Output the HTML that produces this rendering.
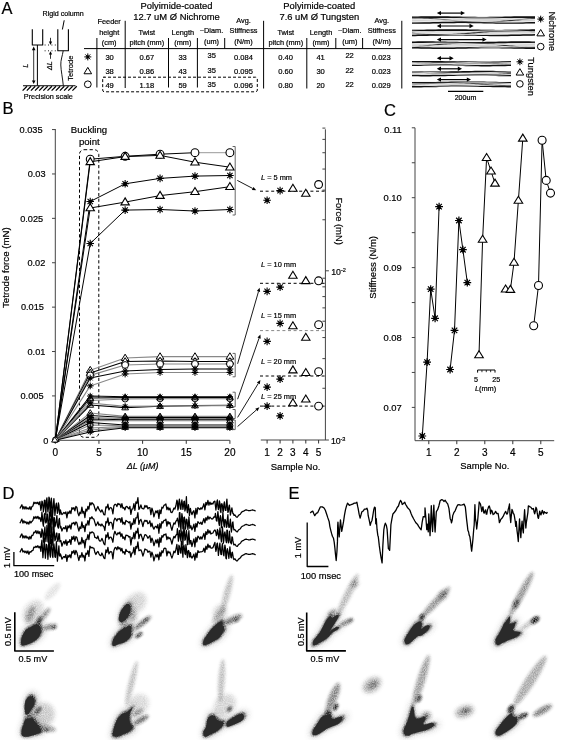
<!DOCTYPE html>
<html><head><meta charset="utf-8"><style>
html,body{margin:0;padding:0;background:#fff;width:575px;height:740px;overflow:hidden}
svg{display:block;will-change:transform}
text{font-family:"Liberation Sans", sans-serif;fill:#000;stroke:#000;stroke-width:0.2px}
</style></head><body>
<svg width="575" height="740" viewBox="0 0 575 740">
<rect width="575" height="740" fill="#fff"/>
<text x="2.4" y="498.6" font-size="16.6" text-anchor="start">D</text>
<text x="288.4" y="498.6" font-size="16.6" text-anchor="start">E</text>
<polyline points="19.90,508.56 20.90,506.55 21.90,504.76 22.90,508.99 23.90,506.46 24.90,509.11 25.90,506.68 26.90,508.98 27.90,507.80 28.90,509.26 29.90,506.61 30.90,509.72 31.90,506.66 32.90,506.08 33.90,502.11 34.90,503.69 35.90,502.35 36.90,503.67 37.90,502.15 38.90,504.65 39.90,501.65 40.90,510.41 41.40,507.46 41.90,501.19 42.40,501.86 42.90,505.93 43.40,511.79 43.90,507.45 44.40,500.29 44.90,500.12 45.40,508.31 45.90,514.39 46.40,500.67 46.90,497.84 47.40,505.35 47.90,511.97 48.40,508.02 48.90,497.04 49.40,498.14 49.90,509.66 50.40,516.14 50.90,501.30 51.40,498.20 51.90,506.23 52.40,517.90 52.90,512.77 53.40,503.68 53.90,498.51 54.40,506.28 54.90,515.53 55.40,510.49 55.90,505.07 56.40,503.19 56.90,508.28 57.40,513.37 57.90,510.41 58.40,502.89 58.90,505.40 59.40,512.39 59.90,514.53 60.40,509.86 60.90,511.68 61.90,514.63 62.90,513.73 63.90,512.41 64.90,513.51 65.90,511.92 66.90,517.80 67.90,511.90 68.90,513.55 69.90,510.81 70.90,513.55 71.90,507.66 72.90,509.16 73.90,507.60 74.90,510.91 75.90,506.41 76.90,507.45 77.90,513.12 78.90,515.76 79.90,512.18 80.90,513.72 81.90,507.16 82.90,513.21 83.90,511.40 84.90,517.68 85.90,509.12 86.90,511.00 87.90,506.35 88.90,509.27 89.90,502.61 90.90,504.92 91.90,502.66 92.90,503.74 93.90,504.99 94.90,508.59 95.90,511.02 96.90,508.48 97.90,506.47 98.90,509.19 99.90,510.71 100.90,512.02 101.90,509.86 102.90,512.09 103.90,514.66 104.90,514.88 105.90,506.81 106.90,507.80 107.90,504.04 108.90,509.92 109.90,507.97 110.90,507.48 111.90,508.93 112.90,513.83 113.90,505.88 114.90,504.28 115.90,504.40 116.90,506.56 117.90,503.43 118.90,504.51 119.90,504.01 120.90,507.70 121.90,503.56 122.90,508.17 123.90,507.59 124.90,509.92 125.90,506.78 126.90,506.36 127.90,507.81 128.90,508.75 129.90,506.40 130.90,514.37 131.90,509.16 132.90,508.88 133.90,503.51 134.90,510.33 135.90,501.97 136.90,503.34 137.90,497.52 138.90,509.42 139.90,507.80 140.90,504.94 141.90,508.20 142.90,508.83 143.90,508.78 144.90,505.32 145.90,507.22 146.90,505.70 147.90,508.81 148.90,507.65 149.90,507.52 150.90,514.69 151.90,508.04 152.90,511.19 153.90,516.94 154.90,513.41 155.90,510.81 156.90,512.83 157.90,510.44 158.90,518.48 159.90,509.82 160.90,513.73 161.90,507.09 162.90,508.11 163.90,505.37 164.90,504.94 165.90,504.01 166.90,509.73 167.90,507.19 168.90,509.94 169.90,508.07 170.90,512.23 171.90,512.64 172.90,510.72 173.90,508.04 174.90,508.99 175.90,505.79 176.90,500.06 177.40,501.67 177.90,510.05 178.40,508.17 178.90,501.92 179.40,499.04 179.90,503.64 180.40,508.73 180.90,509.35 181.40,502.77 181.90,499.99 182.40,503.96 182.90,509.48 183.40,506.27 183.90,501.50 184.40,501.17 184.90,511.00 185.40,508.95 185.90,505.25 186.40,496.66 186.90,509.06 187.40,512.71 187.90,507.99 188.40,504.67 188.90,508.28 189.40,515.57 189.90,512.14 190.40,508.35 190.90,511.17 191.90,514.69 192.90,511.99 193.90,510.74 194.90,517.87 195.90,508.34 196.90,514.22 197.90,507.60 198.90,508.49 199.90,509.65 200.90,507.76 201.90,509.02 202.90,506.86 203.90,503.73 204.90,509.87 205.90,502.29 206.90,505.03 207.90,500.41 208.90,505.20 209.90,502.09 210.90,504.52 211.90,503.10 212.90,503.99 213.90,501.57 214.90,501.17 215.40,505.70 215.90,510.04 216.40,506.22 216.90,501.45 217.40,499.95 217.90,506.54 218.40,509.56 218.90,507.26 219.40,500.99 219.90,503.40 220.40,510.91 220.90,512.62 221.40,504.15 221.90,503.60 222.40,505.51 222.90,511.13 223.40,511.36 223.90,504.10 224.40,501.88 224.90,507.22 225.40,510.38 225.90,510.42 226.40,503.50 226.90,499.15 227.40,506.88 227.90,512.47 228.40,511.23 228.90,506.71 229.40,505.04 229.90,509.54 230.40,515.12 230.90,512.42 231.40,510.09 231.90,507.86 232.40,510.92 232.90,513.57 233.40,513.52 233.90,515.46 234.90,514.92 235.70,516.22 236.50,517.09 237.30,517.25 238.10,515.99 238.90,515.02 239.70,514.62 240.50,513.95 241.30,512.55 242.10,511.74 242.90,511.39 243.70,511.21 244.50,510.46 245.30,510.15 246.10,509.81 246.90,510.10 247.70,510.25 248.50,510.71 249.30,510.63 250.10,510.69 250.90,510.26 251.70,510.06 252.50,509.84 253.30,510.09 254.10,510.29 254.90,510.78 255.70,510.94" stroke="#000" stroke-width="1.25" fill="none" stroke-linejoin="round"/>
<polyline points="19.90,523.29 20.90,521.24 21.90,519.03 22.90,523.19 23.90,520.71 24.90,522.82 25.90,521.75 26.90,523.89 27.90,522.04 28.90,524.11 29.90,521.15 30.90,522.98 31.90,521.47 32.90,520.34 33.90,516.71 34.90,518.54 35.90,516.50 36.90,518.48 37.90,516.31 38.90,518.92 39.90,517.40 40.90,521.56 41.40,519.68 41.90,512.19 42.40,516.68 42.90,523.34 43.40,526.23 43.90,519.41 44.40,513.88 44.90,513.33 45.40,522.00 45.90,523.03 46.40,521.81 46.90,514.84 47.40,513.93 47.90,522.00 48.40,532.19 48.90,525.04 49.40,512.04 49.90,516.96 50.40,520.53 50.90,532.62 51.40,521.34 51.90,510.48 52.40,517.00 52.90,524.56 53.40,529.62 53.90,517.49 54.40,517.76 54.90,526.87 55.40,525.17 55.90,522.56 56.40,519.02 56.90,515.51 57.40,525.48 57.90,526.95 58.40,528.19 58.90,519.98 59.40,518.42 59.90,524.42 60.40,527.87 60.90,526.68 61.90,531.07 62.90,528.48 63.90,527.57 64.90,528.93 65.90,525.78 66.90,531.62 67.90,525.90 68.90,527.87 69.90,524.90 70.90,529.16 71.90,523.05 72.90,523.71 73.90,522.32 74.90,525.00 75.90,521.90 76.90,523.03 77.90,527.32 78.90,531.00 79.90,526.81 80.90,528.58 81.90,521.85 82.90,527.59 83.90,525.59 84.90,531.57 85.90,524.11 86.90,525.12 87.90,520.65 88.90,525.13 89.90,517.60 90.90,518.62 91.90,516.71 92.90,518.69 93.90,519.11 94.90,522.57 95.90,525.81 96.90,523.97 97.90,521.85 98.90,525.25 99.90,524.19 100.90,526.03 101.90,524.00 102.90,525.75 103.90,526.71 104.90,530.51 105.90,521.59 106.90,522.87 107.90,517.94 108.90,525.33 109.90,522.37 110.90,522.26 111.90,523.38 112.90,529.10 113.90,520.73 114.90,518.12 115.90,519.13 116.90,521.05 117.90,518.76 118.90,519.12 119.90,518.50 120.90,522.34 121.90,517.59 122.90,524.07 123.90,522.18 124.90,524.55 125.90,520.37 126.90,521.23 127.90,521.78 128.90,522.83 129.90,521.57 130.90,529.24 131.90,523.23 132.90,524.60 133.90,518.68 134.90,523.78 135.90,517.75 136.90,517.84 137.90,512.71 138.90,524.40 139.90,520.53 140.90,519.32 141.90,522.41 142.90,526.67 143.90,522.10 144.90,520.19 145.90,521.25 146.90,520.45 147.90,523.74 148.90,523.09 149.90,520.77 150.90,526.61 151.90,523.07 152.90,527.11 153.90,529.13 154.90,527.07 155.90,526.21 156.90,528.04 157.90,524.51 158.90,533.25 159.90,523.29 160.90,528.07 161.90,521.53 162.90,523.05 163.90,520.39 164.90,520.29 165.90,519.13 166.90,526.05 167.90,521.28 168.90,523.94 169.90,522.41 170.90,526.84 171.90,530.25 172.90,526.13 173.90,522.86 174.90,524.20 175.90,521.26 176.90,520.19 177.40,518.23 177.90,520.90 178.40,522.81 178.90,527.05 179.40,512.89 179.90,512.55 180.40,523.57 180.90,531.11 181.40,519.78 181.90,513.53 182.40,516.75 182.90,528.90 183.40,527.68 183.90,517.72 184.40,517.04 184.90,520.87 185.40,529.16 185.90,526.13 186.40,519.12 186.90,519.60 187.40,523.80 187.90,529.49 188.40,525.32 188.90,516.77 189.40,522.47 189.90,528.27 190.40,526.39 190.90,525.78 191.90,529.83 192.90,527.63 193.90,524.07 194.90,531.33 195.90,523.32 196.90,527.16 197.90,521.62 198.90,522.84 199.90,523.74 200.90,522.18 201.90,524.45 202.90,521.52 203.90,518.53 204.90,522.84 205.90,517.53 206.90,520.27 207.90,516.08 208.90,519.13 209.90,517.04 210.90,518.19 211.90,519.09 212.90,518.58 213.90,516.87 214.90,517.08 215.40,513.32 215.90,516.95 216.40,520.54 216.90,521.21 217.40,516.15 217.90,511.56 218.40,516.28 218.90,523.35 219.40,525.54 219.90,518.15 220.40,515.63 220.90,518.24 221.40,527.61 221.90,522.71 222.40,520.04 222.90,512.09 223.40,519.29 223.90,525.56 224.40,527.03 224.90,519.38 225.40,519.99 225.90,521.68 226.40,527.36 226.90,526.89 227.40,518.32 227.90,514.72 228.40,524.27 228.90,527.41 229.40,527.10 229.90,522.50 230.40,519.19 230.90,527.35 231.40,532.04 231.90,528.26 232.40,522.88 232.90,521.92 233.40,527.23 233.90,529.79 234.90,529.55 235.70,530.76 236.50,531.66 237.30,531.80 238.10,530.55 238.90,529.63 239.70,529.20 240.50,528.55 241.30,527.18 242.10,526.38 242.90,526.00 243.70,525.77 244.50,525.10 245.30,524.71 246.10,524.40 246.90,524.68 247.70,524.80 248.50,525.26 249.30,525.25 250.10,525.29 250.90,524.84 251.70,524.75 252.50,524.46 253.30,524.70 254.10,524.92 254.90,525.38 255.70,525.52" stroke="#000" stroke-width="1.25" fill="none" stroke-linejoin="round"/>
<polyline points="19.90,537.68 20.90,535.46 21.90,533.95 22.90,538.00 23.90,535.74 24.90,538.03 25.90,535.83 26.90,538.12 27.90,536.89 28.90,539.33 29.90,536.44 30.90,538.81 31.90,535.25 32.90,535.38 33.90,532.14 34.90,532.77 35.90,530.59 36.90,533.63 37.90,530.95 38.90,533.57 39.90,531.56 40.90,537.37 41.40,536.83 41.90,528.93 42.40,530.42 42.90,533.06 43.40,542.06 43.90,537.61 44.40,530.79 44.90,526.98 45.40,536.17 45.90,541.39 46.40,535.73 46.90,525.48 47.40,528.90 47.90,541.46 48.40,542.41 48.90,530.90 49.40,523.08 49.90,535.19 50.40,543.74 50.90,539.34 51.40,530.72 51.90,526.79 52.40,539.98 52.90,545.28 53.40,534.71 53.90,526.71 54.40,533.13 54.90,540.79 55.40,539.80 55.90,536.61 56.40,533.07 56.90,533.03 57.40,540.59 57.90,541.37 58.40,539.01 58.90,533.68 59.40,533.88 59.90,541.62 60.40,540.63 60.90,540.72 61.90,546.23 62.90,543.31 63.90,541.32 64.90,543.99 65.90,539.83 66.90,545.37 67.90,541.50 68.90,542.37 69.90,539.54 70.90,544.32 71.90,536.67 72.90,539.44 73.90,536.05 74.90,541.12 75.90,536.60 76.90,537.56 77.90,541.61 78.90,544.66 79.90,542.17 80.90,544.07 81.90,537.50 82.90,542.91 83.90,540.28 84.90,547.80 85.90,539.31 86.90,539.56 87.90,534.52 88.90,539.60 89.90,532.05 90.90,533.16 91.90,531.93 92.90,532.43 93.90,533.32 94.90,537.50 95.90,537.70 96.90,538.55 97.90,536.01 98.90,539.81 99.90,541.15 100.90,540.85 101.90,538.37 102.90,540.65 103.90,543.91 104.90,544.88 105.90,534.82 106.90,537.26 107.90,532.70 108.90,539.03 109.90,537.31 110.90,537.02 111.90,538.85 112.90,542.27 113.90,534.48 114.90,531.27 115.90,533.85 116.90,534.96 117.90,532.79 118.90,533.91 119.90,532.04 120.90,536.56 121.90,533.72 122.90,538.35 123.90,536.95 124.90,539.83 125.90,535.20 126.90,535.37 127.90,535.65 128.90,537.12 129.90,536.38 130.90,545.03 131.90,537.74 132.90,538.63 133.90,532.68 134.90,538.78 135.90,531.23 136.90,532.97 137.90,528.09 138.90,538.71 139.90,534.65 140.90,534.20 141.90,537.20 142.90,540.75 143.90,537.66 144.90,534.65 145.90,534.93 146.90,536.13 147.90,538.27 148.90,536.94 149.90,535.67 150.90,542.50 151.90,538.09 152.90,540.61 153.90,545.68 154.90,542.69 155.90,539.81 156.90,543.02 157.90,539.03 158.90,546.84 159.90,537.63 160.90,542.33 161.90,535.58 162.90,537.11 163.90,534.43 164.90,534.93 165.90,533.81 166.90,539.65 167.90,536.82 168.90,538.77 169.90,537.70 170.90,540.16 171.90,544.22 172.90,539.56 173.90,536.35 174.90,537.91 175.90,535.29 176.90,534.24 177.40,528.57 177.90,534.43 178.40,541.12 178.90,537.50 179.40,530.43 179.90,531.42 180.40,537.86 180.90,541.01 181.40,533.43 181.90,530.98 182.40,533.29 182.90,544.70 183.40,535.45 183.90,526.57 184.40,531.15 184.90,540.30 185.40,539.38 185.90,534.36 186.40,530.46 186.90,534.46 187.40,544.74 187.90,544.39 188.40,536.05 188.90,530.67 189.40,539.19 189.90,544.19 190.40,540.69 190.90,540.46 191.90,546.50 192.90,542.44 193.90,538.92 194.90,546.80 195.90,537.36 196.90,542.01 197.90,536.15 198.90,537.27 199.90,539.31 200.90,536.71 201.90,539.09 202.90,536.20 203.90,533.36 204.90,539.39 205.90,531.62 206.90,534.52 207.90,529.63 208.90,533.22 209.90,530.73 210.90,533.99 211.90,533.24 212.90,533.05 213.90,531.03 214.90,529.93 215.40,530.53 215.90,532.55 216.40,535.55 216.90,534.58 217.40,529.44 217.90,530.52 218.40,535.41 218.90,538.98 219.40,534.71 219.90,527.96 220.40,531.47 220.90,538.00 221.40,541.94 221.90,535.09 222.40,526.85 222.90,532.33 223.40,543.17 223.90,540.07 224.40,533.40 224.90,531.89 225.40,534.82 225.90,540.25 226.40,542.63 226.90,530.06 227.40,530.33 227.90,540.69 228.40,542.94 228.90,540.24 229.40,531.23 229.90,536.36 230.40,542.71 230.90,542.77 231.40,543.89 231.90,536.96 232.40,537.02 232.90,540.66 233.40,543.48 233.90,544.96 234.90,544.13 235.70,545.36 236.50,546.26 237.30,546.44 238.10,545.17 238.90,544.27 239.70,543.83 240.50,543.11 241.30,541.78 242.10,540.98 242.90,540.59 243.70,540.36 244.50,539.64 245.30,539.31 246.10,539.07 246.90,539.33 247.70,539.49 248.50,539.88 249.30,539.86 250.10,539.82 250.90,539.42 251.70,539.32 252.50,539.01 253.30,539.30 254.10,539.46 254.90,539.98 255.70,540.11" stroke="#000" stroke-width="1.25" fill="none" stroke-linejoin="round"/>
<polyline points="19.90,552.36 20.90,550.32 21.90,548.52 22.90,552.01 23.90,550.80 24.90,552.61 25.90,551.10 26.90,553.24 27.90,550.94 28.90,554.31 29.90,551.65 30.90,552.20 31.90,550.63 32.90,550.67 33.90,547.04 34.90,547.52 35.90,546.26 36.90,547.37 37.90,545.68 38.90,547.78 39.90,546.30 40.90,551.27 41.40,544.03 41.90,540.25 42.40,547.57 42.90,557.62 43.40,551.58 43.90,545.43 44.40,537.80 44.90,551.00 45.40,558.22 45.90,551.87 46.40,544.36 46.90,545.21 47.40,550.41 47.90,559.28 48.40,551.89 48.90,537.27 49.40,544.29 49.90,554.62 50.40,557.11 50.90,546.08 51.40,539.32 51.90,546.86 52.40,555.89 52.90,557.58 53.40,547.57 53.90,543.92 54.40,548.18 54.90,556.83 55.40,557.34 55.90,548.55 56.40,541.61 56.90,551.84 57.40,561.12 57.90,555.75 58.40,550.75 58.90,545.82 59.40,555.43 59.90,556.13 60.40,553.85 60.90,555.22 61.90,559.22 62.90,557.56 63.90,556.54 64.90,557.56 65.90,554.50 66.90,561.33 67.90,555.39 68.90,557.12 69.90,554.74 70.90,557.79 71.90,551.43 72.90,553.08 73.90,550.41 74.90,554.64 75.90,550.44 76.90,552.45 77.90,556.70 78.90,560.49 79.90,555.64 80.90,557.24 81.90,552.71 82.90,557.11 83.90,555.25 84.90,561.00 85.90,553.12 86.90,554.35 87.90,550.49 88.90,556.46 89.90,546.02 90.90,547.91 91.90,547.34 92.90,548.06 93.90,548.02 94.90,552.55 95.90,554.56 96.90,552.38 97.90,551.38 98.90,553.61 99.90,555.28 100.90,555.75 101.90,553.00 102.90,555.26 103.90,557.99 104.90,558.63 105.90,549.77 106.90,552.50 107.90,547.33 108.90,553.91 109.90,552.12 110.90,551.45 111.90,552.27 112.90,558.90 113.90,550.49 114.90,547.81 115.90,547.45 116.90,549.84 117.90,546.66 118.90,548.89 119.90,547.77 120.90,551.00 121.90,548.33 122.90,552.89 123.90,551.59 124.90,554.38 125.90,549.35 126.90,551.40 127.90,551.26 128.90,552.70 129.90,551.52 130.90,557.13 131.90,552.83 132.90,552.88 133.90,547.29 134.90,554.61 135.90,546.32 136.90,548.23 137.90,541.92 138.90,550.75 139.90,550.13 140.90,549.80 141.90,552.28 142.90,556.12 143.90,552.94 144.90,548.94 145.90,549.62 146.90,549.81 147.90,552.30 148.90,551.21 149.90,551.35 150.90,557.13 151.90,552.18 152.90,554.97 153.90,560.86 154.90,557.15 155.90,554.41 156.90,556.98 157.90,554.10 158.90,559.77 159.90,552.18 160.90,556.26 161.90,550.74 162.90,552.77 163.90,548.59 164.90,548.10 165.90,548.53 166.90,555.88 167.90,551.06 168.90,552.94 169.90,551.99 170.90,555.29 171.90,558.14 172.90,555.17 173.90,551.23 174.90,552.78 175.90,549.47 176.90,544.47 177.40,549.49 177.90,554.44 178.40,554.36 178.90,545.23 179.40,546.52 179.90,548.57 180.40,552.76 180.90,553.14 181.40,541.26 181.90,542.45 182.40,550.61 182.90,557.23 183.40,546.90 183.90,545.13 184.40,548.49 184.90,553.53 185.40,554.57 185.90,544.55 186.40,548.37 186.90,553.70 187.40,557.62 187.90,551.54 188.40,550.49 188.90,551.16 189.40,556.83 189.90,557.12 190.40,552.63 190.90,555.71 191.90,558.08 192.90,556.44 193.90,554.10 194.90,560.25 195.90,552.83 196.90,557.55 197.90,550.64 198.90,552.37 199.90,551.97 200.90,551.83 201.90,551.63 202.90,551.27 203.90,548.08 204.90,552.37 205.90,546.06 206.90,549.44 207.90,544.02 208.90,547.62 209.90,545.64 210.90,548.14 211.90,548.07 212.90,547.69 213.90,545.05 214.90,542.37 215.40,547.77 215.90,551.37 216.40,549.18 216.90,543.84 217.40,543.13 217.90,548.26 218.40,555.44 218.90,550.91 219.40,546.64 219.90,543.15 220.40,549.65 220.90,554.43 221.40,554.59 221.90,547.20 222.40,543.62 222.90,548.62 223.40,554.54 223.90,555.89 224.40,550.05 224.90,545.18 225.40,547.96 225.90,558.13 226.40,558.75 226.90,550.70 227.40,548.59 227.90,551.37 228.40,554.99 228.90,558.31 229.40,552.63 229.90,546.90 230.40,553.14 230.90,557.30 231.40,557.73 231.90,552.74 232.40,552.28 232.90,555.47 233.40,558.42 233.90,559.63 234.90,558.77 235.70,559.96 236.50,560.85 237.30,560.98 238.10,559.77 238.90,558.88 239.70,558.39 240.50,557.67 241.30,556.31 242.10,555.60 242.90,555.20 243.70,554.97 244.50,554.28 245.30,553.94 246.10,553.67 246.90,553.94 247.70,554.03 248.50,554.45 249.30,554.40 250.10,554.43 250.90,554.01 251.70,553.94 252.50,553.63 253.30,553.85 254.10,554.08 254.90,554.57 255.70,554.70" stroke="#000" stroke-width="1.25" fill="none" stroke-linejoin="round"/>
<polyline points="13.90,551.90 13.90,565.70 54.20,565.70" stroke="#000" stroke-width="1.3" fill="none" stroke-linejoin="round"/>
<text x="6.8" y="557.5" font-size="9.1" text-anchor="middle" transform="rotate(-90 6.8 557.5)" dy="3.2">1 mV</text>
<text x="33.7" y="577.2" font-size="9.1" text-anchor="middle">100 msec</text>
<polyline points="310.21,512.96 311.48,511.86 312.74,511.08 313.74,513.46 314.75,515.69 316.27,513.29 317.78,512.58 320.30,506.92 322.32,506.87 324.08,508.04 325.34,510.27 326.60,513.99 327.86,517.89 329.13,521.46 329.88,526.54 330.89,530.78 331.65,533.69 332.40,536.24 333.41,537.98 334.17,541.87 334.92,548.36 335.43,553.73 336.19,560.49 336.94,551.50 337.45,541.63 337.70,525.53 337.95,522.08 338.45,529.43 339.21,536.84 339.72,529.16 340.47,519.78 340.98,524.64 341.73,531.46 342.49,527.30 343.50,521.88 344.51,514.84 345.51,509.59 346.52,505.88 347.53,503.17 349.30,505.28 351.06,504.71 352.57,504.18 354.34,503.14 355.60,503.19 356.86,502.23 357.62,506.18 358.12,508.38 359.13,514.19 360.14,518.10 361.15,514.39 361.90,511.79 363.16,511.04 364.43,509.11 365.69,509.17 366.95,508.22 367.70,510.72 368.21,515.70 369.22,520.23 370.22,525.32 370.98,522.50 371.99,520.44 372.75,516.04 373.75,509.76 374.51,507.12 375.27,507.69 375.77,523.81 376.28,518.55 377.03,529.42 377.79,535.18 378.29,536.73 379.30,545.67 380.31,552.97 381.07,557.68 382.08,562.96 382.83,546.08 383.84,529.55 384.60,525.37 385.35,523.16 386.36,525.43 387.12,529.36 387.87,540.78 388.38,548.68 389.14,549.24 389.64,550.40 390.40,535.49 390.90,524.76 391.91,518.80 392.92,513.98 394.43,512.23 395.94,510.27 397.20,507.47 398.46,506.00 399.47,502.74 400.48,500.41 401.49,501.87 402.25,504.50 403.51,503.51 404.77,502.14 405.52,504.27 406.53,505.89 407.54,507.69 408.55,508.60 409.81,510.09 411.07,513.58 412.33,516.41 413.59,518.78 414.85,520.99 416.11,523.09 417.38,524.15 418.64,526.30 419.90,528.23 421.16,529.74 422.17,522.16 423.17,516.76 423.93,516.72 424.94,516.78 425.00,507.93 426.01,519.56 426.77,529.62 427.52,524.03 428.28,531.84 428.78,513.89 429.54,526.09 430.04,535.66 430.80,519.11 431.30,505.68 432.06,524.10 432.56,531.57 433.32,515.07 433.83,505.04 434.58,523.68 435.09,532.01 435.84,519.15 436.35,511.53 437.61,509.73 438.87,505.97 440.13,500.73 441.39,499.67 442.65,499.82 443.91,501.45 445.17,500.29 446.43,502.39 447.69,503.91 448.95,508.40 450.21,518.69 450.97,520.35 451.48,522.84 452.23,520.02 452.74,515.61 454.00,512.33 455.26,510.55 456.52,507.30 457.78,504.80 459.04,504.70 460.30,505.08 462.32,504.94 464.08,504.13 465.34,506.96 466.60,519.38 467.36,525.61 467.86,530.21 468.62,531.99 469.13,534.99 469.88,536.85 470.39,540.41 471.14,547.18 471.65,551.17 472.40,544.32 472.91,539.42 473.66,530.01 474.17,525.02 474.67,512.14 474.92,504.71 475.43,518.69 476.19,522.85 476.69,529.04 477.45,522.56 477.95,517.25 478.71,508.32 479.21,501.98 480.47,504.02 481.23,508.11 481.73,511.50 482.49,507.84 482.99,506.74 483.75,512.74 484.25,513.16 485.01,510.94 485.51,509.82 486.27,514.09 486.78,514.11 487.53,509.57 488.04,508.50 488.79,506.26 489.30,505.97 490.05,508.70 490.56,513.76 491.31,510.17 491.82,510.58 492.57,512.47 493.08,514.52 494.34,513.77 495.60,511.34 496.86,513.59 498.12,513.48 498.88,518.42 499.38,522.66 500.14,521.18 500.64,519.65 501.90,518.26 503.16,516.47 504.43,513.56 505.69,511.37 506.44,513.27 506.95,514.26 507.70,512.97 508.21,509.37 508.96,507.00 509.47,504.00 509.97,514.43 510.73,522.56 511.23,516.50 511.99,509.41 512.75,511.32 513.25,513.45 514.01,514.25 514.51,516.87 515.27,521.66 515.77,526.44 516.28,521.43 517.03,530.61 517.54,534.41 518.29,541.49 518.80,531.71 519.55,518.86 520.06,527.99 520.81,537.69 521.32,529.39 522.08,521.10 522.58,527.93 523.34,532.93 523.84,521.62 524.60,509.76 525.10,517.93 525.86,528.02 526.36,522.30 527.12,517.71 527.87,512.60 528.38,505.79 529.64,506.59 530.90,507.23 532.16,509.17 533.42,508.48 534.18,512.37 534.68,513.89 535.44,510.73 535.94,507.27 536.70,508.96 537.20,512.65 537.96,517.40 538.46,518.42 539.22,514.30 539.73,511.22 540.48,513.91 540.99,514.91 541.74,512.29 542.25,510.30 543.00,512.30 543.51,514.16 544.26,511.70 544.77,512.36 545.52,512.66 546.03,513.09 546.79,513.38 547.29,511.83" stroke="#000" stroke-width="1.3" fill="none" stroke-linejoin="round"/>
<polyline points="307.20,522.40 307.20,566.50 328.40,566.50" stroke="#000" stroke-width="1.3" fill="none" stroke-linejoin="round"/>
<text x="297.6" y="547.5" font-size="9.1" text-anchor="middle" transform="rotate(-90 297.6 547.5)" dy="3.2">1 mV</text>
<text x="320.8" y="578.5" font-size="9.3" text-anchor="middle">100 msec</text>
<polyline points="14.80,612.20 14.80,651.00 53.90,651.00" stroke="#000" stroke-width="1.6" fill="none" stroke-linejoin="round"/>
<text x="7.8" y="631.7" font-size="9.1" text-anchor="middle" transform="rotate(-90 7.8 631.7)" dy="3.2">0.5 mV</text>
<text x="32.8" y="662.4" font-size="9.1" text-anchor="middle">0.5 mV</text>
<polyline points="306.70,612.60 306.70,650.90 345.90,650.90" stroke="#000" stroke-width="1.6" fill="none" stroke-linejoin="round"/>
<text x="300.7" y="631.7" font-size="9.1" text-anchor="middle" transform="rotate(-90 300.7 631.7)" dy="3.2">0.5 mV</text>
<text x="324.8" y="662.4" font-size="9.1" text-anchor="middle">0.5 mV</text>
<defs><filter id="bl2" x="-50%" y="-50%" width="200%" height="200%"><feGaussianBlur stdDeviation="2.2"/></filter><filter id="bl1" x="-50%" y="-50%" width="200%" height="200%"><feGaussianBlur stdDeviation="1.0"/></filter><filter id="bl3" x="-50%" y="-50%" width="200%" height="200%"><feGaussianBlur stdDeviation="3.0"/></filter><filter id="bl15" x="-50%" y="-50%" width="200%" height="200%"><feGaussianBlur stdDeviation="1.4"/></filter><filter id="bl05" x="-50%" y="-50%" width="200%" height="200%"><feGaussianBlur stdDeviation="0.5"/></filter><filter id="speck" x="0" y="0" width="100%" height="100%" filterUnits="userSpaceOnUse"><feTurbulence type="fractalNoise" baseFrequency="0.9" numOctaves="1" seed="5" result="n"/><feColorMatrix in="n" type="matrix" values="0 0 0 0 0  0 0 0 0 0  0 0 0 0 0  0 0 0 1.1 0.2" result="na"/><feComposite in="SourceGraphic" in2="na" operator="in"/><feGaussianBlur stdDeviation="0.3"/></filter></defs>
<g filter="url(#speck)"><ellipse cx="33.0" cy="612.0" rx="13.0" ry="9.0" transform="rotate(-55 33.0 612.0)" fill="#000" opacity="0.192" filter="url(#bl2)"/><ellipse cx="30.5" cy="614.0" rx="8.7" ry="3.5" transform="rotate(-66.37062226934319 30.5 614.0)" fill="#000" opacity="0.40800000000000003" filter="url(#bl15)"/><ellipse cx="44.5" cy="615.0" rx="8.9" ry="2.6" transform="rotate(-51.84277341263094 44.5 615.0)" fill="#000" opacity="0.528" filter="url(#bl15)"/><ellipse cx="50.0" cy="626.8" rx="7.2" ry="2.6" transform="rotate(-14.036243467926479 50.0 626.8)" fill="#000" opacity="0.6" filter="url(#bl15)"/><ellipse cx="54.0" cy="627.5" rx="2.5" ry="1.8" transform="rotate(-20 54.0 627.5)" fill="#000" opacity="0.72" filter="url(#bl1)"/><ellipse cx="39.0" cy="621.0" rx="4.3" ry="2.2" transform="rotate(-69.44395478041653 39.0 621.0)" fill="#000" opacity="1.0" filter="url(#bl1)"/><ellipse cx="52.5" cy="591.5" rx="11.3" ry="4.0" transform="rotate(-48.57633437499735 52.5 591.5)" fill="#000" opacity="0.12" filter="url(#bl15)"/><path d="M20.10 646.77C19.34 645.64 19.30 642.26 19.58 640.01C19.86 637.75 20.66 635.50 21.79 633.25C22.92 630.99 24.46 628.29 26.34 626.49C28.23 624.69 31.02 623.61 33.10 622.46C35.18 621.31 37.30 619.97 38.82 619.60C40.34 619.23 41.16 619.29 42.20 620.25C43.24 621.20 44.58 623.54 45.06 625.32C45.54 627.09 45.54 629.02 45.06 630.91C44.58 632.79 43.63 634.83 42.20 636.63C40.77 638.43 38.56 640.29 36.48 641.70C34.40 643.11 31.78 644.23 29.72 645.08C27.66 645.92 25.73 646.49 24.13 646.77C22.53 647.05 20.86 647.89 20.10 646.77Z" fill="#000" opacity="0.28" filter="url(#bl3)"/><path d="M20.94 645.83C20.29 644.86 20.25 641.94 20.49 640.00C20.74 638.06 21.43 636.12 22.40 634.18C23.37 632.24 24.69 629.90 26.32 628.35C27.94 626.81 30.35 625.87 32.14 624.88C33.93 623.89 35.76 622.74 37.07 622.42C38.38 622.10 39.08 622.16 39.98 622.98C40.88 623.80 42.03 625.82 42.44 627.35C42.86 628.88 42.86 630.54 42.44 632.16C42.03 633.79 41.21 635.54 39.98 637.09C38.75 638.64 36.84 640.25 35.05 641.46C33.26 642.67 31.00 643.64 29.23 644.37C27.46 645.10 25.79 645.58 24.41 645.83C23.03 646.07 21.59 646.80 20.94 645.83Z" fill="#000" opacity="0.9099999999999999" filter="url(#bl1)"/><ellipse cx="136.0" cy="603.0" rx="12.0" ry="9.0" transform="rotate(-50 136.0 603.0)" fill="#000" opacity="0.192" filter="url(#bl2)"/><ellipse cx="131.0" cy="615.0" rx="5.0" ry="7.0" transform="rotate(-30 131.0 615.0)" fill="#000" opacity="0.432" filter="url(#bl2)"/><ellipse cx="142.5" cy="622.9" rx="10.9" ry="2.4" transform="rotate(-39.06847307508015 142.5 622.9)" fill="#000" opacity="0.72" filter="url(#bl15)"/><ellipse cx="146.0" cy="620.0" rx="2.5" ry="1.6" transform="rotate(-40 146.0 620.0)" fill="#000" opacity="0.72" filter="url(#bl1)"/><ellipse cx="138.9" cy="635.0" rx="4.4" ry="2.0" transform="rotate(-36.60707481260774 138.9 635.0)" fill="#000" opacity="0.84" filter="url(#bl1)"/><ellipse cx="123.5" cy="623.5" rx="4.0" ry="3.0" transform="rotate(0 123.5 623.5)" fill="#000" opacity="0.6" filter="url(#bl2)"/><path d="M118.61 620.87C118.14 619.36 118.57 616.37 119.13 614.11C119.70 611.86 120.76 609.43 121.99 607.35C123.23 605.27 125.03 602.87 126.54 601.63C128.06 600.40 129.97 599.75 131.09 599.94C132.22 600.14 132.93 601.37 133.30 602.80C133.67 604.23 133.67 606.44 133.30 608.52C132.93 610.60 132.22 613.22 131.09 615.28C129.97 617.34 128.06 619.55 126.54 620.87C125.03 622.19 123.31 623.21 121.99 623.21C120.67 623.21 119.09 622.39 118.61 620.87Z" fill="#000" opacity="0.28" filter="url(#bl3)"/><path d="M118.78 620.47C118.37 619.16 118.75 616.59 119.23 614.64C119.72 612.70 120.63 610.61 121.70 608.82C122.76 607.03 124.31 604.96 125.62 603.89C126.92 602.83 128.57 602.27 129.54 602.44C130.51 602.60 131.12 603.67 131.44 604.90C131.76 606.13 131.76 608.04 131.44 609.83C131.12 611.62 130.51 613.88 129.54 615.65C128.57 617.43 126.92 619.33 125.62 620.47C124.31 621.61 122.84 622.48 121.70 622.48C120.56 622.48 119.20 621.78 118.78 620.47Z" fill="#000" opacity="0.9099999999999999" filter="url(#bl1)"/><path d="M110.85 646.27C110.46 645.03 110.72 642.00 111.37 640.03C112.02 638.05 113.42 636.32 114.75 634.44C116.07 632.55 117.78 630.23 119.30 628.72C120.81 627.20 122.33 626.27 123.85 625.34C125.36 624.40 126.90 623.78 128.40 623.13C129.89 622.48 131.69 621.44 132.82 621.44C133.94 621.44 134.77 621.91 135.16 623.13C135.55 624.34 135.24 626.83 135.16 628.72C135.07 630.60 135.20 632.75 134.64 634.44C134.07 636.13 133.21 637.45 131.78 638.86C130.35 640.26 128.14 641.85 126.06 642.89C123.98 643.93 121.35 644.34 119.30 645.10C117.24 645.85 115.11 647.24 113.71 647.44C112.30 647.63 111.24 647.50 110.85 646.27Z" fill="#000" opacity="0.28" filter="url(#bl3)"/><path d="M111.78 645.51C111.44 644.44 111.67 641.83 112.23 640.13C112.79 638.43 114.00 636.94 115.14 635.31C116.28 633.69 117.75 631.69 119.06 630.39C120.37 629.08 121.67 628.28 122.98 627.47C124.29 626.67 125.61 626.13 126.90 625.57C128.19 625.01 129.74 624.11 130.71 624.11C131.68 624.11 132.39 624.53 132.72 625.57C133.06 626.62 132.80 628.76 132.72 630.39C132.65 632.01 132.76 633.86 132.27 635.31C131.79 636.77 131.04 637.91 129.81 639.12C128.58 640.34 126.67 641.70 124.88 642.59C123.09 643.49 120.83 643.85 119.06 644.50C117.29 645.15 115.46 646.35 114.24 646.51C113.03 646.68 112.11 646.57 111.78 645.51Z" fill="#000" opacity="0.9099999999999999" filter="url(#bl1)"/><ellipse cx="227.0" cy="593.5" rx="19.2" ry="3.2" transform="rotate(-74.87599269168945 227.0 593.5)" fill="#000" opacity="0.288" filter="url(#bl15)"/><ellipse cx="220.0" cy="612.0" rx="8.0" ry="6.0" transform="rotate(-55 220.0 612.0)" fill="#000" opacity="0.24" filter="url(#bl2)"/><ellipse cx="233.0" cy="619.4" rx="10.0" ry="3.0" transform="rotate(-25.796026494500065 233.0 619.4)" fill="#000" opacity="0.672" filter="url(#bl15)"/><ellipse cx="236.7" cy="620.0" rx="2.5" ry="2.0" transform="rotate(-30 236.7 620.0)" fill="#000" opacity="0.6" filter="url(#bl1)"/><ellipse cx="218.5" cy="615.4" rx="9.6" ry="3.0" transform="rotate(-50.50041147020185 218.5 615.4)" fill="#000" opacity="0.288" filter="url(#bl15)"/><path d="M201.94 646.96C201.09 646.20 200.85 643.86 201.42 641.89C201.98 639.92 203.71 637.58 205.32 635.13C206.92 632.68 208.96 629.65 211.04 627.20C213.12 624.75 215.74 622.24 217.80 620.44C219.86 618.64 221.98 616.97 223.39 616.41C224.80 615.84 225.68 616.02 226.25 617.06C226.81 618.10 226.40 620.96 226.77 622.65C227.14 624.34 228.63 625.51 228.46 627.20C228.28 628.89 226.94 630.90 225.73 632.79C224.51 634.67 223.26 636.80 221.18 638.51C219.10 640.22 215.70 641.74 213.25 643.06C210.80 644.38 208.37 645.79 206.49 646.44C204.60 647.09 202.78 647.72 201.94 646.96Z" fill="#000" opacity="0.28" filter="url(#bl3)"/><path d="M202.99 645.78C202.27 645.13 202.06 643.11 202.55 641.41C203.03 639.72 204.53 637.70 205.91 635.59C207.29 633.48 209.04 630.87 210.83 628.76C212.63 626.65 214.89 624.48 216.66 622.93C218.43 621.39 220.26 619.95 221.47 619.46C222.69 618.98 223.45 619.13 223.94 620.02C224.42 620.92 224.07 623.38 224.39 624.84C224.70 626.29 225.99 627.30 225.84 628.76C225.69 630.21 224.54 631.95 223.49 633.57C222.45 635.20 221.36 637.03 219.57 638.50C217.78 639.98 214.85 641.28 212.74 642.42C210.63 643.56 208.54 644.77 206.91 645.33C205.29 645.89 203.72 646.44 202.99 645.78Z" fill="#000" opacity="0.9099999999999999" filter="url(#bl1)"/><ellipse cx="42.0" cy="715.0" rx="13.0" ry="12.0" transform="rotate(-40 42.0 715.0)" fill="#000" opacity="0.24" filter="url(#bl2)"/><ellipse cx="38.0" cy="710.5" rx="4.6" ry="2.5" transform="rotate(-49.398705354995535 38.0 710.5)" fill="#000" opacity="0.72" filter="url(#bl1)"/><ellipse cx="48.0" cy="728.5" rx="8.1" ry="3.0" transform="rotate(10.619655276155134 48.0 728.5)" fill="#000" opacity="0.48" filter="url(#bl15)"/><ellipse cx="46.3" cy="730.2" rx="2.2" ry="1.5" transform="rotate(0 46.3 730.2)" fill="#000" opacity="0.96" filter="url(#bl1)"/><path d="M25.72 714.73C25.15 713.21 24.68 709.44 24.68 706.80C24.68 704.16 24.98 701.12 25.72 698.87C26.45 696.62 27.78 694.41 29.10 693.28C30.42 692.15 32.33 691.74 33.65 692.11C34.97 692.48 36.36 693.97 37.03 695.49C37.70 697.01 37.96 699.32 37.68 701.21C37.40 703.09 36.38 704.91 35.34 706.80C34.30 708.68 32.65 711.00 31.44 712.52C30.22 714.04 29.01 715.53 28.06 715.90C27.10 716.27 26.28 716.25 25.72 714.73Z" fill="#000" opacity="0.32" filter="url(#bl3)"/><path d="M25.53 714.11C25.04 712.80 24.63 709.56 24.63 707.28C24.63 705.00 24.89 702.39 25.53 700.45C26.16 698.51 27.30 696.60 28.44 695.63C29.58 694.66 31.22 694.31 32.36 694.62C33.50 694.94 34.69 696.23 35.27 697.54C35.85 698.84 36.07 700.84 35.83 702.46C35.59 704.09 34.71 705.66 33.82 707.28C32.92 708.90 31.50 710.90 30.46 712.21C29.41 713.51 28.36 714.80 27.54 715.12C26.72 715.44 26.01 715.42 25.53 714.11Z" fill="#000" opacity="1.0" filter="url(#bl1)"/><path d="M20.98 736.26C19.94 734.85 20.05 731.75 20.33 729.50C20.61 727.25 21.91 724.99 22.67 722.74C23.43 720.49 23.86 717.39 24.88 715.98C25.90 714.57 27.18 714.57 28.78 714.29C30.38 714.01 32.98 713.64 34.50 714.29C36.02 714.94 36.56 716.59 37.88 718.19C39.20 719.79 41.11 722.02 42.43 723.91C43.75 725.79 45.64 727.90 45.81 729.50C45.98 731.10 45.35 732.40 43.47 733.53C41.59 734.66 37.32 735.52 34.50 736.26C31.68 737.00 28.82 737.95 26.57 737.95C24.32 737.95 22.02 737.67 20.98 736.26Z" fill="#000" opacity="0.28" filter="url(#bl3)"/><path d="M21.59 735.74C20.70 734.53 20.79 731.86 21.03 729.92C21.27 727.98 22.39 726.04 23.05 724.10C23.70 722.15 24.07 719.49 24.95 718.27C25.83 717.06 26.93 717.06 28.31 716.82C29.69 716.57 31.93 716.26 33.24 716.82C34.55 717.38 35.01 718.79 36.15 720.18C37.29 721.56 38.93 723.48 40.07 725.10C41.21 726.73 42.83 728.54 42.98 729.92C43.13 731.30 42.59 732.42 40.97 733.39C39.34 734.36 35.67 735.11 33.24 735.74C30.81 736.38 28.35 737.20 26.41 737.20C24.47 737.20 22.49 736.96 21.59 735.74Z" fill="#000" opacity="0.9099999999999999" filter="url(#bl1)"/><ellipse cx="29.0" cy="716.0" rx="4.0" ry="2.5" transform="rotate(0 29.0 716.0)" fill="#000" opacity="0.72" filter="url(#bl2)"/><ellipse cx="131.5" cy="683.0" rx="22.7" ry="3.0" transform="rotate(-75.96375653207353 131.5 683.0)" fill="#000" opacity="0.288" filter="url(#bl15)"/><ellipse cx="138.0" cy="705.0" rx="12.0" ry="10.0" transform="rotate(-45 138.0 705.0)" fill="#000" opacity="0.168" filter="url(#bl2)"/><ellipse cx="141.1" cy="719.8" rx="8.6" ry="2.6" transform="rotate(-30.448623543840597 141.1 719.8)" fill="#000" opacity="0.72" filter="url(#bl15)"/><ellipse cx="138.0" cy="712.5" rx="6.1" ry="2.4" transform="rotate(-34.99202019855866 138.0 712.5)" fill="#000" opacity="0.432" filter="url(#bl15)"/><path d="M110.88 737.85C110.03 736.44 110.96 733.71 111.53 731.09C112.09 728.46 113.24 724.76 114.26 722.12C115.28 719.47 116.12 717.31 117.64 715.23C119.15 713.15 121.47 710.94 123.36 709.64C125.24 708.34 127.06 708.55 128.95 707.43C130.83 706.30 133.35 703.83 134.67 702.88C135.99 701.92 137.07 700.77 136.88 701.71C136.68 702.64 134.26 706.21 133.50 708.47C132.74 710.72 132.33 712.95 132.33 715.23C132.33 717.50 132.74 720.04 133.50 722.12C134.26 724.20 137.25 725.82 136.88 727.71C136.51 729.59 133.54 731.91 131.29 733.43C129.03 734.94 125.81 735.79 123.36 736.81C120.91 737.82 118.68 739.36 116.60 739.54C114.52 739.71 111.72 739.25 110.88 737.85Z" fill="#000" opacity="0.28" filter="url(#bl3)"/><path d="M112.03 736.38C111.30 735.17 112.11 732.81 112.59 730.55C113.08 728.30 114.07 725.10 114.94 722.83C115.82 720.55 116.55 718.68 117.86 716.89C119.16 715.10 121.16 713.19 122.78 712.07C124.41 710.95 125.98 711.14 127.60 710.17C129.22 709.20 131.39 707.07 132.53 706.25C133.67 705.43 134.60 704.44 134.43 705.24C134.26 706.05 132.17 709.13 131.52 711.07C130.87 713.01 130.51 714.93 130.51 716.89C130.51 718.85 130.87 721.03 131.52 722.83C132.17 724.62 134.75 726.02 134.43 727.64C134.11 729.27 131.56 731.26 129.62 732.57C127.67 733.88 124.89 734.61 122.78 735.48C120.67 736.36 118.75 737.69 116.96 737.83C115.17 737.98 112.76 737.59 112.03 736.38Z" fill="#000" opacity="0.9099999999999999" filter="url(#bl1)"/><ellipse cx="221.5" cy="680.5" rx="21.6" ry="3.2" transform="rotate(-86.00908690157023 221.5 680.5)" fill="#000" opacity="0.288" filter="url(#bl15)"/><ellipse cx="225.0" cy="705.0" rx="12.0" ry="10.0" transform="rotate(-45 225.0 705.0)" fill="#000" opacity="0.192" filter="url(#bl2)"/><ellipse cx="229.4" cy="709.0" rx="3.0" ry="2.0" transform="rotate(-50 229.4 709.0)" fill="#000" opacity="0.84" filter="url(#bl1)"/><path d="M202.79 737.59C202.09 736.57 201.55 734.29 202.01 732.25C202.46 730.22 204.72 727.86 205.52 725.37C206.32 722.87 206.04 719.56 206.82 717.31C207.60 715.05 208.83 712.86 210.20 711.85C211.56 710.83 213.64 710.74 215.01 711.19C216.37 711.65 217.15 713.45 218.39 714.58C219.62 715.70 220.94 717.28 222.42 717.96C223.89 718.63 226.43 717.59 227.23 718.61C228.03 719.62 227.81 722.48 227.23 724.07C226.64 725.65 225.19 726.73 223.72 728.10C222.24 729.46 220.40 731.00 218.39 732.25C216.37 733.51 213.66 734.62 211.63 735.64C209.59 736.65 207.64 738.04 206.17 738.37C204.69 738.69 203.48 738.60 202.79 737.59Z" fill="#000" opacity="0.28" filter="url(#bl3)"/><path d="M203.46 736.69C202.86 735.82 202.39 733.86 202.78 732.10C203.18 730.35 205.12 728.31 205.81 726.17C206.50 724.02 206.26 721.16 206.93 719.22C207.60 717.28 208.66 715.40 209.84 714.52C211.02 713.64 212.81 713.57 213.98 713.96C215.16 714.35 215.83 715.90 216.90 716.87C217.96 717.84 219.10 719.20 220.37 719.78C221.64 720.36 223.82 719.46 224.51 720.34C225.20 721.22 225.02 723.68 224.51 725.05C224.01 726.41 222.76 727.34 221.49 728.52C220.22 729.69 218.63 731.02 216.90 732.10C215.16 733.18 212.83 734.14 211.07 735.01C209.32 735.89 207.64 737.09 206.37 737.37C205.10 737.65 204.05 737.57 203.46 736.69Z" fill="#000" opacity="0.9099999999999999" filter="url(#bl1)"/><path d="M225.19 725.78C224.95 724.65 225.36 721.90 226.49 720.32C227.62 718.74 229.91 717.63 231.95 716.29C233.99 714.95 236.56 713.28 238.71 712.26C240.85 711.24 243.24 710.07 244.82 710.18C246.40 710.29 247.85 711.68 248.20 712.91C248.55 714.15 248.03 716.12 246.90 717.59C245.77 719.06 243.69 720.49 241.44 721.75C239.19 723.01 235.63 724.24 233.38 725.13C231.13 726.02 229.29 726.97 227.92 727.08C226.56 727.19 225.43 726.91 225.19 725.78Z" fill="#000" opacity="0.28" filter="url(#bl3)"/><path d="M225.86 725.73C225.65 724.76 226.01 722.39 226.98 721.03C227.95 719.67 229.93 718.71 231.68 717.56C233.43 716.40 235.66 714.96 237.50 714.08C239.35 713.21 241.41 712.20 242.77 712.29C244.13 712.39 245.38 713.58 245.68 714.64C245.98 715.71 245.53 717.41 244.56 718.68C243.59 719.95 241.80 721.18 239.86 722.26C237.91 723.34 234.85 724.41 232.91 725.17C230.97 725.94 229.38 726.76 228.21 726.85C227.03 726.95 226.06 726.70 225.86 725.73Z" fill="#000" opacity="0.9099999999999999" filter="url(#bl1)"/><ellipse cx="348.0" cy="594.0" rx="22.4" ry="3.6" transform="rotate(-63.43494882292201 348.0 594.0)" fill="#000" opacity="0.312" filter="url(#bl15)"/><ellipse cx="354.6" cy="584.0" rx="3.5" ry="2.6" transform="rotate(-50 354.6 584.0)" fill="#000" opacity="0.6" filter="url(#bl2)"/><ellipse cx="346.1" cy="622.5" rx="7.5" ry="2.4" transform="rotate(-26.5650511770777 346.1 622.5)" fill="#000" opacity="0.6" filter="url(#bl15)"/><ellipse cx="350.9" cy="620.1" rx="2.5" ry="1.6" transform="rotate(-30 350.9 620.1)" fill="#000" opacity="0.6" filter="url(#bl1)"/><ellipse cx="332.0" cy="613.0" rx="5.0" ry="2.5" transform="rotate(-36.86989764584402 332.0 613.0)" fill="#000" opacity="0.48" filter="url(#bl15)"/><path d="M309.93 648.36C309.52 647.32 309.65 644.20 310.58 642.12C311.51 640.04 313.85 638.16 315.52 635.88C317.19 633.61 319.14 630.96 320.59 628.47C322.04 625.98 323.00 623.23 324.23 620.93C325.47 618.63 326.66 616.45 328.00 614.69C329.34 612.94 331.25 610.70 332.29 610.40C333.33 610.10 333.29 612.76 334.24 612.87C335.19 612.98 336.67 611.68 338.01 611.05C339.35 610.42 341.48 608.91 342.30 609.10C343.12 609.30 343.47 610.66 342.95 612.22C342.43 613.78 340.44 616.38 339.18 618.46C337.92 620.54 336.65 622.62 335.41 624.70C334.18 626.78 331.97 630.31 331.77 630.94C331.58 631.57 332.79 629.51 334.24 628.47C335.69 627.43 338.92 625.22 340.48 624.70C342.04 624.18 343.41 624.72 343.60 625.35C343.80 625.98 343.02 627.34 341.65 628.47C340.29 629.60 337.06 630.88 335.41 632.11C333.76 633.35 333.01 634.62 331.77 635.88C330.54 637.14 329.86 638.20 328.00 639.65C326.14 641.10 323.08 643.14 320.59 644.59C318.10 646.04 314.83 647.73 313.05 648.36C311.27 648.99 310.34 649.40 309.93 648.36Z" fill="#000" opacity="0.24" filter="url(#bl3)"/><path d="M311.83 646.34C311.48 645.45 311.59 642.76 312.39 640.97C313.19 639.18 315.21 637.55 316.65 635.59C318.09 633.63 319.77 631.36 321.02 629.21C322.27 627.06 323.09 624.69 324.15 622.71C325.22 620.73 326.24 618.85 327.40 617.34C328.56 615.82 330.20 613.90 331.10 613.64C331.99 613.38 331.95 615.68 332.78 615.77C333.60 615.86 334.87 614.74 336.02 614.20C337.18 613.66 339.01 612.35 339.72 612.52C340.43 612.69 340.73 613.86 340.28 615.21C339.83 616.55 338.11 618.79 337.03 620.58C335.95 622.38 334.85 624.17 333.78 625.96C332.72 627.75 330.82 630.80 330.65 631.34C330.48 631.88 331.53 630.10 332.78 629.21C334.03 628.31 336.81 626.41 338.15 625.96C339.50 625.51 340.67 625.98 340.84 626.52C341.01 627.06 340.34 628.24 339.16 629.21C337.98 630.18 335.20 631.28 333.78 632.34C332.37 633.41 331.71 634.51 330.65 635.59C329.58 636.68 329.01 637.59 327.40 638.84C325.79 640.09 323.16 641.85 321.02 643.10C318.87 644.35 316.05 645.80 314.52 646.34C312.99 646.89 312.19 647.24 311.83 646.34Z" fill="#000" opacity="0.78" filter="url(#bl1)"/><ellipse cx="435.5" cy="602.5" rx="21.2" ry="3.4" transform="rotate(-46.90915243299638 435.5 602.5)" fill="#000" opacity="0.48" filter="url(#bl15)"/><ellipse cx="443.0" cy="595.0" rx="5.0" ry="3.5" transform="rotate(-45 443.0 595.0)" fill="#000" opacity="0.528" filter="url(#bl2)"/><ellipse cx="421.9" cy="617.2" rx="2.5" ry="3.5" transform="rotate(30 421.9 617.2)" fill="#000" opacity="1.0" filter="url(#bl1)"/><path d="M402.98 645.56C402.15 644.52 401.61 642.36 402.33 639.97C403.04 637.59 405.62 633.95 407.27 631.26C408.91 628.58 410.54 625.91 412.21 623.85C413.88 621.80 415.61 620.06 417.28 618.91C418.95 617.77 420.98 616.77 422.22 616.96C423.45 617.16 424.38 618.52 424.69 620.08C424.99 621.64 423.41 625.80 424.04 626.32C424.67 626.84 426.90 623.94 428.46 623.20C430.02 622.47 432.36 621.60 433.40 621.90C434.44 622.21 435.11 623.66 434.70 625.02C434.29 626.39 432.60 628.43 430.93 630.09C429.26 631.76 426.55 634.02 424.69 635.03C422.82 636.05 421.61 635.16 419.75 636.20C417.88 637.24 415.59 639.61 413.51 641.27C411.43 642.94 409.02 645.50 407.27 646.21C405.51 646.93 403.80 646.60 402.98 645.56Z" fill="#000" opacity="0.24" filter="url(#bl3)"/><path d="M404.31 644.33C403.60 643.43 403.14 641.56 403.75 639.51C404.37 637.46 406.59 634.32 408.01 632.01C409.43 629.69 410.83 627.40 412.26 625.62C413.70 623.85 415.19 622.36 416.63 621.37C418.07 620.38 419.82 619.52 420.89 619.69C421.95 619.85 422.75 621.03 423.02 622.37C423.28 623.72 421.91 627.30 422.46 627.75C423.00 628.20 424.92 625.70 426.26 625.06C427.61 624.43 429.62 623.68 430.52 623.94C431.42 624.20 431.99 625.45 431.64 626.63C431.28 627.81 429.83 629.56 428.39 631.00C426.95 632.44 424.62 634.38 423.02 635.25C421.41 636.13 420.36 635.37 418.76 636.26C417.15 637.16 415.18 639.19 413.38 640.63C411.59 642.07 409.52 644.27 408.01 644.89C406.50 645.50 405.02 645.22 404.31 644.33Z" fill="#000" opacity="0.78" filter="url(#bl1)"/><ellipse cx="521.5" cy="593.5" rx="24.4" ry="3.6" transform="rotate(-61.85839876773828 521.5 593.5)" fill="#000" opacity="0.48" filter="url(#bl15)"/><ellipse cx="516.0" cy="604.0" rx="3.0" ry="5.0" transform="rotate(25 516.0 604.0)" fill="#000" opacity="0.6" filter="url(#bl1)"/><ellipse cx="535.0" cy="620.1" rx="5.0" ry="3.0" transform="rotate(-35 535.0 620.1)" fill="#000" opacity="0.96" filter="url(#bl1)"/><ellipse cx="530.0" cy="623.0" rx="12.2" ry="2.5" transform="rotate(-34.99202019855866 530.0 623.0)" fill="#000" opacity="0.288" filter="url(#bl15)"/><path d="M493.93 646.40C493.30 645.15 492.54 642.65 493.28 640.16C494.01 637.67 496.68 634.55 498.35 631.45C500.01 628.35 501.75 624.26 503.29 621.57C504.82 618.89 506.23 617.11 507.58 615.33C508.92 613.56 510.61 610.91 511.35 610.91C512.08 610.91 512.00 613.77 512.00 615.33C512.00 616.89 510.72 619.64 511.35 620.27C511.97 620.90 514.42 619.51 515.77 619.10C517.11 618.69 518.99 617.20 519.41 617.80C519.82 618.41 518.84 620.88 518.24 622.74C517.63 624.61 515.35 627.73 515.77 628.98C516.18 630.24 519.06 629.87 520.71 630.28C522.35 630.69 525.23 630.63 525.65 631.45C526.06 632.28 524.63 633.97 523.18 635.22C521.72 636.48 519.21 637.95 516.94 638.99C514.66 640.03 512.02 640.44 509.53 641.46C507.03 642.48 504.07 644.06 501.99 645.10C499.91 646.14 498.39 647.49 497.05 647.70C495.70 647.92 494.55 647.66 493.93 646.40Z" fill="#000" opacity="0.24" filter="url(#bl3)"/><path d="M495.29 644.96C494.75 643.88 494.10 641.73 494.73 639.59C495.37 637.44 497.66 634.75 499.10 632.08C500.54 629.41 502.03 625.88 503.35 623.57C504.68 621.25 505.89 619.72 507.05 618.19C508.21 616.66 509.66 614.39 510.30 614.39C510.93 614.39 510.86 616.85 510.86 618.19C510.86 619.54 509.76 621.91 510.30 622.45C510.84 622.99 512.95 621.80 514.11 621.44C515.26 621.09 516.89 619.80 517.24 620.32C517.60 620.84 516.76 622.97 516.23 624.58C515.71 626.18 513.75 628.87 514.11 629.95C514.46 631.04 516.94 630.72 518.36 631.07C519.78 631.43 522.26 631.37 522.62 632.08C522.97 632.79 521.74 634.25 520.49 635.33C519.24 636.41 517.07 637.68 515.11 638.58C513.15 639.47 510.88 639.83 508.73 640.71C506.58 641.58 504.03 642.95 502.23 643.84C500.44 644.74 499.14 645.89 497.98 646.08C496.82 646.27 495.83 646.04 495.29 644.96Z" fill="#000" opacity="0.78" filter="url(#bl1)"/><ellipse cx="333.0" cy="697.5" rx="15.7" ry="4.2" transform="rotate(-67.5205656028969 333.0 697.5)" fill="#000" opacity="0.528" filter="url(#bl15)"/><ellipse cx="335.6" cy="707.0" rx="2.2" ry="4.0" transform="rotate(30 335.6 707.0)" fill="#000" opacity="1.0" filter="url(#bl1)"/><ellipse cx="328.0" cy="713.0" rx="3.0" ry="3.0" transform="rotate(0 328.0 713.0)" fill="#000" opacity="0.96" filter="url(#bl1)"/><ellipse cx="372.0" cy="685.0" rx="10.0" ry="6.5" transform="rotate(-35 372.0 685.0)" fill="#000" opacity="0.40800000000000003" filter="url(#bl2)"/><ellipse cx="373.0" cy="685.0" rx="5.0" ry="3.0" transform="rotate(-35 373.0 685.0)" fill="#000" opacity="0.36" filter="url(#bl1)"/><path d="M309.89 736.04C309.57 734.92 309.40 732.84 310.42 730.45C311.43 728.07 314.23 724.45 316.00 721.74C317.78 719.04 319.21 716.07 321.07 714.20C322.94 712.34 325.24 711.28 327.19 710.56C329.13 709.85 331.63 709.31 332.78 709.91C333.92 710.52 333.45 713.16 334.07 714.20C334.70 715.24 335.20 716.15 336.54 716.15C337.89 716.15 340.27 714.72 342.13 714.20C344.00 713.68 346.79 712.41 347.73 713.03C348.66 713.66 348.66 716.33 347.73 717.97C346.79 719.62 344.52 721.46 342.13 722.91C339.75 724.37 336.11 725.43 333.43 726.68C330.74 727.94 328.70 728.89 326.02 730.45C323.33 732.01 319.58 734.92 317.30 736.04C315.03 737.17 313.60 737.21 312.37 737.21C311.13 737.21 310.22 737.17 309.89 736.04Z" fill="#000" opacity="0.24" filter="url(#bl3)"/><path d="M311.58 735.00C311.30 734.03 311.15 732.23 312.03 730.18C312.90 728.13 315.31 725.01 316.84 722.68C318.37 720.34 319.60 717.79 321.21 716.18C322.82 714.58 324.79 713.66 326.47 713.05C328.15 712.43 330.30 711.96 331.29 712.49C332.28 713.01 331.87 715.29 332.41 716.18C332.95 717.08 333.38 717.86 334.54 717.86C335.70 717.86 337.75 716.63 339.35 716.18C340.96 715.73 343.37 714.63 344.17 715.17C344.97 715.71 344.97 718.01 344.17 719.43C343.37 720.85 341.41 722.43 339.35 723.69C337.30 724.94 334.16 725.85 331.85 726.93C329.54 728.02 327.78 728.84 325.47 730.18C323.15 731.53 319.92 734.03 317.96 735.00C316.00 735.97 314.77 736.01 313.71 736.01C312.64 736.01 311.86 735.97 311.58 735.00Z" fill="#000" opacity="0.78" filter="url(#bl1)"/><ellipse cx="421.0" cy="680.5" rx="26.7" ry="4.0" transform="rotate(-72.58202920779716 421.0 680.5)" fill="#000" opacity="0.432" filter="url(#bl15)"/><ellipse cx="419.0" cy="698.4" rx="2.5" ry="4.0" transform="rotate(25 419.0 698.4)" fill="#000" opacity="0.84" filter="url(#bl1)"/><ellipse cx="426.7" cy="715.6" rx="3.5" ry="3.0" transform="rotate(0 426.7 715.6)" fill="#000" opacity="0.72" filter="url(#bl2)"/><ellipse cx="464.5" cy="711.5" rx="9.5" ry="5.5" transform="rotate(-20 464.5 711.5)" fill="#000" opacity="0.432" filter="url(#bl2)"/><ellipse cx="465.5" cy="710.8" rx="4.5" ry="2.5" transform="rotate(-20 465.5 710.8)" fill="#000" opacity="0.432" filter="url(#bl1)"/><path d="M402.05 736.87C401.01 735.63 400.34 733.23 400.75 730.76C401.16 728.29 403.26 725.36 404.52 722.05C405.78 718.73 407.25 714.18 408.29 710.87C409.33 707.55 409.94 703.83 410.76 702.16C411.58 700.49 412.60 700.04 413.23 700.86C413.86 701.68 414.12 704.82 414.53 707.10C414.94 709.37 414.88 713.06 415.70 714.51C416.52 715.96 418.02 715.81 419.47 715.81C420.92 715.81 422.96 714.92 424.41 714.51C425.86 714.10 427.36 713.12 428.18 713.34C429.00 713.56 429.57 714.57 429.35 715.81C429.13 717.04 427.40 719.51 426.88 720.75C426.36 721.98 425.60 722.81 426.23 723.22C426.86 723.63 428.87 723.52 430.65 723.22C432.43 722.92 435.24 721.40 436.89 721.40C438.54 721.40 440.34 722.29 440.53 723.22C440.73 724.15 439.71 725.73 438.06 726.99C436.41 728.25 433.55 729.72 430.65 730.76C427.75 731.80 423.76 732.41 420.64 733.23C417.52 734.05 414.21 734.88 411.93 735.70C409.66 736.52 408.64 737.97 406.99 738.17C405.34 738.36 403.09 738.10 402.05 736.87Z" fill="#000" opacity="0.24" filter="url(#bl3)"/><path d="M403.64 735.57C402.74 734.50 402.17 732.43 402.52 730.30C402.87 728.18 404.69 725.66 405.77 722.80C406.85 719.94 408.12 716.02 409.02 713.17C409.91 710.31 410.43 707.10 411.14 705.66C411.85 704.23 412.73 703.83 413.27 704.54C413.81 705.25 414.04 707.96 414.39 709.92C414.75 711.88 414.69 715.05 415.40 716.30C416.11 717.55 417.40 717.42 418.65 717.42C419.90 717.42 421.65 716.66 422.90 716.30C424.15 715.95 425.44 715.11 426.15 715.30C426.86 715.48 427.35 716.36 427.16 717.42C426.97 718.49 425.48 720.62 425.03 721.68C424.58 722.74 423.93 723.45 424.47 723.81C425.01 724.16 426.75 724.07 428.28 723.81C429.81 723.55 432.24 722.24 433.66 722.24C435.07 722.24 436.62 723.01 436.79 723.81C436.96 724.61 436.08 725.97 434.66 727.06C433.25 728.14 430.78 729.41 428.28 730.30C425.78 731.20 422.34 731.72 419.66 732.43C416.97 733.14 414.11 733.85 412.15 734.56C410.19 735.27 409.31 736.52 407.90 736.69C406.48 736.86 404.54 736.63 403.64 735.57Z" fill="#000" opacity="0.78" filter="url(#bl1)"/><ellipse cx="530.0" cy="681.0" rx="29.7" ry="5.0" transform="rotate(-57.38075692880717 530.0 681.0)" fill="#000" opacity="0.384" filter="url(#bl15)"/><ellipse cx="511.0" cy="709.0" rx="3.0" ry="4.5" transform="rotate(30 511.0 709.0)" fill="#000" opacity="1.0" filter="url(#bl1)"/><ellipse cx="522.9" cy="716.0" rx="5.7" ry="2.4" transform="rotate(-25.893646994228114 522.9 716.0)" fill="#000" opacity="0.96" filter="url(#bl1)"/><ellipse cx="542.5" cy="710.5" rx="11.0" ry="3.2" transform="rotate(-30.068582821862453 542.5 710.5)" fill="#000" opacity="0.6" filter="url(#bl15)"/><path d="M494.48 736.16C493.85 735.12 493.09 733.28 493.83 731.22C494.56 729.16 497.03 726.30 498.90 723.81C500.76 721.32 502.95 718.55 505.01 716.27C507.07 714.00 509.58 711.40 511.25 710.16C512.92 708.93 514.17 708.45 515.02 708.86C515.86 709.27 515.49 711.81 516.32 712.63C517.14 713.45 519.03 712.98 519.96 713.80C520.89 714.62 521.91 716.12 521.91 717.57C521.91 719.02 521.11 720.86 519.96 722.51C518.81 724.16 517.08 725.78 515.02 727.45C512.96 729.12 509.88 731.07 507.61 732.52C505.33 733.97 503.04 735.34 501.37 736.16C499.70 736.98 498.75 737.46 497.60 737.46C496.45 737.46 495.11 737.20 494.48 736.16Z" fill="#000" opacity="0.24" filter="url(#bl3)"/><path d="M495.51 735.28C494.97 734.39 494.32 732.80 494.95 731.03C495.59 729.26 497.71 726.79 499.32 724.64C500.92 722.50 502.81 720.11 504.58 718.15C506.36 716.19 508.52 713.95 509.96 712.88C511.40 711.82 512.48 711.41 513.21 711.76C513.93 712.12 513.62 714.30 514.33 715.01C515.04 715.72 516.66 715.31 517.46 716.02C518.27 716.73 519.14 718.02 519.14 719.27C519.14 720.52 518.45 722.11 517.46 723.52C516.47 724.94 514.98 726.34 513.21 727.78C511.43 729.22 508.78 730.90 506.82 732.15C504.86 733.40 502.88 734.58 501.45 735.28C500.01 735.99 499.19 736.40 498.20 736.40C497.21 736.40 496.05 736.18 495.51 735.28Z" fill="#000" opacity="0.78" filter="url(#bl1)"/></g>
<path d="M21.50 645.20C20.92 644.33 20.88 641.73 21.10 640.00C21.32 638.27 21.93 636.53 22.80 634.80C23.67 633.07 24.85 630.98 26.30 629.60C27.75 628.22 29.90 627.38 31.50 626.50C33.10 625.62 34.73 624.58 35.90 624.30C37.07 624.02 37.70 624.07 38.50 624.80C39.30 625.53 40.33 627.33 40.70 628.70C41.07 630.07 41.07 631.55 40.70 633.00C40.33 634.45 39.60 636.02 38.50 637.40C37.40 638.78 35.70 640.22 34.10 641.30C32.50 642.38 30.48 643.25 28.90 643.90C27.32 644.55 25.83 644.98 24.60 645.20C23.37 645.42 22.08 646.07 21.50 645.20Z" fill="#2c2c2c" filter="url(#bl05)"/><path d="M118.90 620.20C118.53 619.03 118.87 616.73 119.30 615.00C119.73 613.27 120.55 611.40 121.50 609.80C122.45 608.20 123.83 606.35 125.00 605.40C126.17 604.45 127.63 603.95 128.50 604.10C129.37 604.25 129.92 605.20 130.20 606.30C130.48 607.40 130.48 609.10 130.20 610.70C129.92 612.30 129.37 614.32 128.50 615.90C127.63 617.48 126.17 619.18 125.00 620.20C123.83 621.22 122.52 622.00 121.50 622.00C120.48 622.00 119.27 621.37 118.90 620.20Z" fill="#2c2c2c" filter="url(#bl05)"/><path d="M112.40 645.00C112.10 644.05 112.30 641.72 112.80 640.20C113.30 638.68 114.38 637.35 115.40 635.90C116.42 634.45 117.73 632.67 118.90 631.50C120.07 630.33 121.23 629.62 122.40 628.90C123.57 628.18 124.75 627.70 125.90 627.20C127.05 626.70 128.43 625.90 129.30 625.90C130.17 625.90 130.80 626.27 131.10 627.20C131.40 628.13 131.17 630.05 131.10 631.50C131.03 632.95 131.13 634.60 130.70 635.90C130.27 637.20 129.60 638.22 128.50 639.30C127.40 640.38 125.70 641.60 124.10 642.40C122.50 643.20 120.48 643.52 118.90 644.10C117.32 644.68 115.68 645.75 114.60 645.90C113.52 646.05 112.70 645.95 112.40 645.00Z" fill="#2c2c2c" filter="url(#bl05)"/><path d="M203.70 645.00C203.05 644.42 202.87 642.62 203.30 641.10C203.73 639.58 205.07 637.78 206.30 635.90C207.53 634.02 209.10 631.68 210.70 629.80C212.30 627.92 214.32 625.98 215.90 624.60C217.48 623.22 219.12 621.93 220.20 621.50C221.28 621.07 221.97 621.20 222.40 622.00C222.83 622.80 222.52 625.00 222.80 626.30C223.08 627.60 224.23 628.50 224.10 629.80C223.97 631.10 222.93 632.65 222.00 634.10C221.07 635.55 220.10 637.18 218.50 638.50C216.90 639.82 214.28 640.98 212.40 642.00C210.52 643.02 208.65 644.10 207.20 644.60C205.75 645.10 204.35 645.58 203.70 645.00Z" fill="#2c2c2c" filter="url(#bl05)"/><path d="M25.40 713.70C24.97 712.53 24.60 709.63 24.60 707.60C24.60 705.57 24.83 703.23 25.40 701.50C25.97 699.77 26.98 698.07 28.00 697.20C29.02 696.33 30.48 696.02 31.50 696.30C32.52 696.58 33.58 697.73 34.10 698.90C34.62 700.07 34.82 701.85 34.60 703.30C34.38 704.75 33.60 706.15 32.80 707.60C32.00 709.05 30.73 710.83 29.80 712.00C28.87 713.17 27.93 714.32 27.20 714.60C26.47 714.88 25.83 714.87 25.40 713.70Z" fill="#2c2c2c" filter="url(#bl05)"/><path d="M22.00 735.40C21.20 734.32 21.28 731.93 21.50 730.20C21.72 728.47 22.72 726.73 23.30 725.00C23.88 723.27 24.22 720.88 25.00 719.80C25.78 718.72 26.77 718.72 28.00 718.50C29.23 718.28 31.23 718.00 32.40 718.50C33.57 719.00 33.98 720.27 35.00 721.50C36.02 722.73 37.48 724.45 38.50 725.90C39.52 727.35 40.97 728.97 41.10 730.20C41.23 731.43 40.75 732.43 39.30 733.30C37.85 734.17 34.57 734.83 32.40 735.40C30.23 735.97 28.03 736.70 26.30 736.70C24.57 736.70 22.80 736.48 22.00 735.40Z" fill="#2c2c2c" filter="url(#bl05)"/><path d="M112.80 735.40C112.15 734.32 112.87 732.22 113.30 730.20C113.73 728.18 114.62 725.33 115.40 723.30C116.18 721.27 116.83 719.60 118.00 718.00C119.17 716.40 120.95 714.70 122.40 713.70C123.85 712.70 125.25 712.87 126.70 712.00C128.15 711.13 130.08 709.23 131.10 708.50C132.12 707.77 132.95 706.88 132.80 707.60C132.65 708.32 130.78 711.07 130.20 712.80C129.62 714.53 129.30 716.25 129.30 718.00C129.30 719.75 129.62 721.70 130.20 723.30C130.78 724.90 133.08 726.15 132.80 727.60C132.52 729.05 130.23 730.83 128.50 732.00C126.77 733.17 124.28 733.82 122.40 734.60C120.52 735.38 118.80 736.57 117.20 736.70C115.60 736.83 113.45 736.48 112.80 735.40Z" fill="#2c2c2c" filter="url(#bl05)"/><path d="M203.90 736.10C203.37 735.32 202.95 733.57 203.30 732.00C203.65 730.43 205.38 728.62 206.00 726.70C206.62 724.78 206.40 722.23 207.00 720.50C207.60 718.77 208.55 717.08 209.60 716.30C210.65 715.52 212.25 715.45 213.30 715.80C214.35 716.15 214.95 717.53 215.90 718.40C216.85 719.27 217.87 720.48 219.00 721.00C220.13 721.52 222.08 720.72 222.70 721.50C223.32 722.28 223.15 724.48 222.70 725.70C222.25 726.92 221.13 727.75 220.00 728.80C218.87 729.85 217.45 731.03 215.90 732.00C214.35 732.97 212.27 733.82 210.70 734.60C209.13 735.38 207.63 736.45 206.50 736.70C205.37 736.95 204.43 736.88 203.90 736.10Z" fill="#2c2c2c" filter="url(#bl05)"/><path d="M226.30 725.70C226.12 724.83 226.43 722.72 227.30 721.50C228.17 720.28 229.93 719.43 231.50 718.40C233.07 717.37 235.05 716.08 236.70 715.30C238.35 714.52 240.18 713.62 241.40 713.70C242.62 713.78 243.73 714.85 244.00 715.80C244.27 716.75 243.87 718.27 243.00 719.40C242.13 720.53 240.53 721.63 238.80 722.60C237.07 723.57 234.33 724.52 232.60 725.20C230.87 725.88 229.45 726.62 228.40 726.70C227.35 726.78 226.48 726.57 226.30 725.70Z" fill="#2c2c2c" filter="url(#bl05)"/><path d="M313.10 645.00C312.78 644.20 312.88 641.80 313.60 640.20C314.32 638.60 316.12 637.15 317.40 635.40C318.68 633.65 320.18 631.62 321.30 629.70C322.42 627.78 323.15 625.67 324.10 623.90C325.05 622.13 325.97 620.45 327.00 619.10C328.03 617.75 329.50 616.03 330.30 615.80C331.10 615.57 331.07 617.62 331.80 617.70C332.53 617.78 333.67 616.78 334.70 616.30C335.73 615.82 337.37 614.65 338.00 614.80C338.63 614.95 338.90 616.00 338.50 617.20C338.10 618.40 336.57 620.40 335.60 622.00C334.63 623.60 333.65 625.20 332.70 626.80C331.75 628.40 330.05 631.12 329.90 631.60C329.75 632.08 330.68 630.50 331.80 629.70C332.92 628.90 335.40 627.20 336.60 626.80C337.80 626.40 338.85 626.82 339.00 627.30C339.15 627.78 338.55 628.83 337.50 629.70C336.45 630.57 333.97 631.55 332.70 632.50C331.43 633.45 330.85 634.43 329.90 635.40C328.95 636.37 328.43 637.18 327.00 638.30C325.57 639.42 323.22 640.98 321.30 642.10C319.38 643.22 316.87 644.52 315.50 645.00C314.13 645.48 313.42 645.80 313.10 645.00Z" fill="#2c2c2c" filter="url(#bl05)"/><path d="M405.20 643.50C404.57 642.70 404.15 641.03 404.70 639.20C405.25 637.37 407.23 634.57 408.50 632.50C409.77 630.43 411.02 628.38 412.30 626.80C413.58 625.22 414.92 623.88 416.20 623.00C417.48 622.12 419.05 621.35 420.00 621.50C420.95 621.65 421.67 622.70 421.90 623.90C422.13 625.10 420.92 628.30 421.40 628.70C421.88 629.10 423.60 626.87 424.80 626.30C426.00 625.73 427.80 625.07 428.60 625.30C429.40 625.53 429.92 626.65 429.60 627.70C429.28 628.75 427.98 630.32 426.70 631.60C425.42 632.88 423.33 634.62 421.90 635.40C420.47 636.18 419.53 635.50 418.10 636.30C416.67 637.10 414.90 638.92 413.30 640.20C411.70 641.48 409.85 643.45 408.50 644.00C407.15 644.55 405.83 644.30 405.20 643.50Z" fill="#2c2c2c" filter="url(#bl05)"/><path d="M496.20 644.00C495.72 643.03 495.13 641.12 495.70 639.20C496.27 637.28 498.32 634.88 499.60 632.50C500.88 630.12 502.22 626.97 503.40 624.90C504.58 622.83 505.67 621.47 506.70 620.10C507.73 618.73 509.03 616.70 509.60 616.70C510.17 616.70 510.10 618.90 510.10 620.10C510.10 621.30 509.12 623.42 509.60 623.90C510.08 624.38 511.97 623.32 513.00 623.00C514.03 622.68 515.48 621.53 515.80 622.00C516.12 622.47 515.37 624.37 514.90 625.80C514.43 627.23 512.68 629.63 513.00 630.60C513.32 631.57 515.53 631.28 516.80 631.60C518.07 631.92 520.28 631.87 520.60 632.50C520.92 633.13 519.82 634.43 518.70 635.40C517.58 636.37 515.65 637.50 513.90 638.30C512.15 639.10 510.12 639.42 508.20 640.20C506.28 640.98 504.00 642.20 502.40 643.00C500.80 643.80 499.63 644.83 498.60 645.00C497.57 645.17 496.68 644.97 496.20 644.00Z" fill="#2c2c2c" filter="url(#bl05)"/><path d="M312.70 734.30C312.45 733.43 312.32 731.83 313.10 730.00C313.88 728.17 316.03 725.38 317.40 723.30C318.77 721.22 319.87 718.93 321.30 717.50C322.73 716.07 324.50 715.25 326.00 714.70C327.50 714.15 329.42 713.73 330.30 714.20C331.18 714.67 330.82 716.70 331.30 717.50C331.78 718.30 332.17 719.00 333.20 719.00C334.23 719.00 336.07 717.90 337.50 717.50C338.93 717.10 341.08 716.12 341.80 716.60C342.52 717.08 342.52 719.13 341.80 720.40C341.08 721.67 339.33 723.08 337.50 724.20C335.67 725.32 332.87 726.13 330.80 727.10C328.73 728.07 327.17 728.80 325.10 730.00C323.03 731.20 320.15 733.43 318.40 734.30C316.65 735.17 315.55 735.20 314.60 735.20C313.65 735.20 312.95 735.17 312.70 734.30Z" fill="#2c2c2c" filter="url(#bl05)"/><path d="M404.70 734.70C403.90 733.75 403.38 731.90 403.70 730.00C404.02 728.10 405.63 725.85 406.60 723.30C407.57 720.75 408.70 717.25 409.50 714.70C410.30 712.15 410.77 709.28 411.40 708.00C412.03 706.72 412.82 706.37 413.30 707.00C413.78 707.63 413.98 710.05 414.30 711.80C414.62 713.55 414.57 716.38 415.20 717.50C415.83 718.62 416.98 718.50 418.10 718.50C419.22 718.50 420.78 717.82 421.90 717.50C423.02 717.18 424.17 716.43 424.80 716.60C425.43 716.77 425.87 717.55 425.70 718.50C425.53 719.45 424.20 721.35 423.80 722.30C423.40 723.25 422.82 723.88 423.30 724.20C423.78 724.52 425.33 724.43 426.70 724.20C428.07 723.97 430.23 722.80 431.50 722.80C432.77 722.80 434.15 723.48 434.30 724.20C434.45 724.92 433.67 726.13 432.40 727.10C431.13 728.07 428.93 729.20 426.70 730.00C424.47 730.80 421.40 731.27 419.00 731.90C416.60 732.53 414.05 733.17 412.30 733.80C410.55 734.43 409.77 735.55 408.50 735.70C407.23 735.85 405.50 735.65 404.70 734.70Z" fill="#2c2c2c" filter="url(#bl05)"/><path d="M496.20 734.70C495.72 733.90 495.13 732.48 495.70 730.90C496.27 729.32 498.17 727.12 499.60 725.20C501.03 723.28 502.72 721.15 504.30 719.40C505.88 717.65 507.82 715.65 509.10 714.70C510.38 713.75 511.35 713.38 512.00 713.70C512.65 714.02 512.37 715.97 513.00 716.60C513.63 717.23 515.08 716.87 515.80 717.50C516.52 718.13 517.30 719.28 517.30 720.40C517.30 721.52 516.68 722.93 515.80 724.20C514.92 725.47 513.58 726.72 512.00 728.00C510.42 729.28 508.05 730.78 506.30 731.90C504.55 733.02 502.78 734.07 501.50 734.70C500.22 735.33 499.48 735.70 498.60 735.70C497.72 735.70 496.68 735.50 496.20 734.70Z" fill="#2c2c2c" filter="url(#bl05)"/>
<text x="1.6" y="13.9" font-size="16.4" text-anchor="start">A</text>
<text x="42.6" y="16.3" font-size="7.1" text-anchor="start">Rigid column</text>
<line x1="64.20" y1="20.30" x2="62.40" y2="29.50" stroke="#000" stroke-width="1.0"/>
<polyline points="32.30,29.20 32.30,45.00 42.70,45.00 42.70,29.20" stroke="#000" stroke-width="1.1" fill="none" stroke-linejoin="round"/>
<line x1="37.40" y1="45.00" x2="37.40" y2="85.60" stroke="#000" stroke-width="1.0"/>
<line x1="33.70" y1="48.50" x2="33.70" y2="82.50" stroke="#000" stroke-width="0.8"/>
<polygon points="33.7,46.6 31.9,50.2 35.5,50.2" fill="#000"/>
<polygon points="33.7,84.0 31.9,80.4 35.5,80.4" fill="#000"/>
<text x="25.4" y="65.7" font-size="7.4" text-anchor="middle" font-style="italic" transform="rotate(-90 25.4 65.7)" dy="2.6">L</text>
<line x1="44.60" y1="45.00" x2="56.50" y2="45.00" stroke="#000" stroke-width="0.9" stroke-dasharray="1,2.4"/>
<line x1="44.60" y1="50.80" x2="56.50" y2="50.80" stroke="#000" stroke-width="0.9" stroke-dasharray="1,2.4"/>
<line x1="50.50" y1="37.80" x2="50.50" y2="43.00" stroke="#000" stroke-width="0.8"/>
<polygon points="50.5,44.9 48.9,41.6 52.1,41.6" fill="#000"/>
<line x1="50.50" y1="53.50" x2="50.50" y2="58.80" stroke="#000" stroke-width="0.8"/>
<polygon points="50.5,51.2 48.9,54.5 52.1,54.5" fill="#000"/>
<text x="49.4" y="65.7" font-size="7.0" text-anchor="middle" font-style="italic" transform="rotate(-90 49.4 65.7)" dy="2.5">ΔL</text>
<polyline points="57.80,29.20 57.80,50.80 68.40,50.80 68.40,29.20" stroke="#000" stroke-width="1.1" fill="none" stroke-linejoin="round"/>
<path d="M63.2 50.8 C62.4 56 60.6 60 60.8 65 C61 71 62.6 78 63.3 85.6" stroke="#000" stroke-width="0.9" fill="none"/>
<text x="70.0" y="68.2" font-size="7.5" text-anchor="middle" transform="rotate(-90 70.0 68.2)" dy="2.6">Tetrode</text>
<line x1="23.00" y1="85.70" x2="75.50" y2="85.70" stroke="#000" stroke-width="1.1"/>
<path d="M27.0 86.2L22.6 90.6M31.1 86.2L26.8 90.6M35.3 86.2L30.9 90.6M39.4 86.2L35.0 90.6M43.6 86.2L39.2 90.6M47.7 86.2L43.3 90.6M51.9 86.2L47.5 90.6M56.0 86.2L51.6 90.6M60.2 86.2L55.8 90.6M64.3 86.2L59.9 90.6M68.5 86.2L64.1 90.6M72.7 86.2L68.2 90.6M76.8 86.2L72.4 90.6" stroke="#000" stroke-width="1.25"/>
<text x="23.8" y="99.3" font-size="7.3" text-anchor="start">Precision scale</text>
<text x="176.5" y="8.9" font-size="9.4" text-anchor="middle">Polyimide-coated</text>
<text x="176.5" y="19.6" font-size="9.4" text-anchor="middle">12.7 uM Ø Nichrome</text>
<text x="319.3" y="8.9" font-size="9.4" text-anchor="middle">Polyimide-coated</text>
<text x="319.3" y="19.6" font-size="9.4" text-anchor="middle">7.6 uM Ø Tungsten</text>
<text x="109.2" y="23.6" font-size="7.35" text-anchor="middle">Feeder</text>
<text x="109.2" y="34.6" font-size="7.35" text-anchor="middle">height</text>
<text x="109.2" y="45.3" font-size="7.35" text-anchor="middle">(cm)</text>
<text x="146.8" y="34.6" font-size="7.35" text-anchor="middle">Twist</text>
<text x="146.8" y="45.3" font-size="7.35" text-anchor="middle">pitch (mm)</text>
<text x="182.8" y="34.6" font-size="7.35" text-anchor="middle">Length</text>
<text x="182.8" y="45.3" font-size="7.35" text-anchor="middle">(mm)</text>
<text x="211.5" y="33.4" font-size="7.35" text-anchor="middle">~Diam.</text>
<text x="211.5" y="44.3" font-size="7.35" text-anchor="middle">(um)</text>
<text x="243.5" y="22.6" font-size="7.35" text-anchor="middle">Avg.</text>
<text x="243.5" y="33.4" font-size="7.35" text-anchor="middle">Stiffness</text>
<text x="243.5" y="44.3" font-size="7.35" text-anchor="middle">(N/m)</text>
<text x="285.8" y="34.6" font-size="7.35" text-anchor="middle">Twist</text>
<text x="285.8" y="45.3" font-size="7.35" text-anchor="middle">pitch (mm)</text>
<text x="321.0" y="34.6" font-size="7.35" text-anchor="middle">Length</text>
<text x="321.0" y="45.3" font-size="7.35" text-anchor="middle">(mm)</text>
<text x="349.8" y="33.4" font-size="7.35" text-anchor="middle">~Diam.</text>
<text x="349.8" y="44.3" font-size="7.35" text-anchor="middle">(um)</text>
<text x="381.8" y="22.6" font-size="7.35" text-anchor="middle">Avg.</text>
<text x="381.8" y="33.4" font-size="7.35" text-anchor="middle">Stiffness</text>
<text x="381.8" y="44.3" font-size="7.35" text-anchor="middle">(N/m)</text>
<line x1="84.00" y1="48.60" x2="402.00" y2="48.60" stroke="#000" stroke-width="1.0"/>
<line x1="96.90" y1="38.00" x2="96.90" y2="87.50" stroke="#000" stroke-width="1.0"/>
<line x1="125.20" y1="20.80" x2="125.20" y2="88.00" stroke="#000" stroke-width="1.0"/>
<line x1="168.50" y1="38.00" x2="168.50" y2="87.50" stroke="#000" stroke-width="1.0"/>
<line x1="197.40" y1="38.00" x2="197.40" y2="87.50" stroke="#000" stroke-width="1.0"/>
<line x1="224.70" y1="38.00" x2="224.70" y2="48.60" stroke="#000" stroke-width="1.0"/>
<line x1="263.60" y1="20.80" x2="263.60" y2="88.50" stroke="#000" stroke-width="1.0"/>
<line x1="306.80" y1="38.00" x2="306.80" y2="88.50" stroke="#000" stroke-width="1.0"/>
<line x1="335.80" y1="38.00" x2="335.80" y2="48.60" stroke="#000" stroke-width="1.0"/>
<line x1="362.60" y1="38.00" x2="362.60" y2="48.60" stroke="#000" stroke-width="1.0"/>
<line x1="401.80" y1="20.80" x2="401.80" y2="88.50" stroke="#000" stroke-width="1.0"/>
<text x="109.6" y="59.6" font-size="7.55" text-anchor="middle">30</text>
<text x="146.8" y="59.6" font-size="7.55" text-anchor="middle">0.67</text>
<text x="182.6" y="59.6" font-size="7.55" text-anchor="middle">33</text>
<text x="211.7" y="58.4" font-size="7.55" text-anchor="middle">35</text>
<text x="243.5" y="59.6" font-size="7.55" text-anchor="middle">0.084</text>
<text x="285.6" y="59.6" font-size="7.55" text-anchor="middle">0.40</text>
<text x="320.6" y="59.6" font-size="7.55" text-anchor="middle">41</text>
<text x="349.6" y="58.4" font-size="7.55" text-anchor="middle">22</text>
<text x="381.3" y="59.6" font-size="7.55" text-anchor="middle">0.023</text>
<text x="109.6" y="74.0" font-size="7.55" text-anchor="middle">38</text>
<text x="146.8" y="74.0" font-size="7.55" text-anchor="middle">0.86</text>
<text x="182.6" y="74.0" font-size="7.55" text-anchor="middle">43</text>
<text x="211.7" y="72.8" font-size="7.55" text-anchor="middle">35</text>
<text x="243.5" y="74.0" font-size="7.55" text-anchor="middle">0.095</text>
<text x="285.6" y="74.0" font-size="7.55" text-anchor="middle">0.60</text>
<text x="320.6" y="74.0" font-size="7.55" text-anchor="middle">30</text>
<text x="349.6" y="72.8" font-size="7.55" text-anchor="middle">22</text>
<text x="381.3" y="74.0" font-size="7.55" text-anchor="middle">0.023</text>
<text x="109.6" y="88.2" font-size="7.55" text-anchor="middle">49</text>
<text x="146.8" y="88.2" font-size="7.55" text-anchor="middle">1.18</text>
<text x="182.6" y="88.2" font-size="7.55" text-anchor="middle">59</text>
<text x="211.7" y="87.0" font-size="7.55" text-anchor="middle">35</text>
<text x="243.5" y="88.2" font-size="7.55" text-anchor="middle">0.096</text>
<text x="285.6" y="88.2" font-size="7.55" text-anchor="middle">0.80</text>
<text x="320.6" y="88.2" font-size="7.55" text-anchor="middle">20</text>
<text x="349.6" y="87.0" font-size="7.55" text-anchor="middle">22</text>
<text x="381.3" y="88.2" font-size="7.55" text-anchor="middle">0.029</text>
<path d="M84.30 56.90L91.30 56.90M85.33 54.43L90.27 59.37M87.80 53.40L87.80 60.40M90.27 54.43L85.33 59.37" stroke="#000" stroke-width="1.0"/>
<circle cx="87.80" cy="56.90" r="1.57" fill="#000"/>
<polygon points="87.80,67.36 91.60,73.76 84.00,73.76" stroke="#000" stroke-width="1.0" fill="#fff" stroke-linejoin="miter"/>
<circle cx="87.80" cy="84.30" r="3.4" stroke="#000" stroke-width="1.0" fill="#fff"/>
<path d="M103 77.2 L255.5 77.2 Q257.3 77.2 257.3 79 L257.3 90 Q257.3 91.8 255.5 91.8 L104.5 91.8 Q102.7 91.8 102.7 90 L102.7 79 Q102.7 77.2 104.5 77.2" stroke="#000" stroke-width="1.0" fill="none" stroke-dasharray="3,2"/>
<rect x="412" y="16.60" width="123" height="6.80" fill="#d4d4d4"/>
<polyline points="412.00,17.39 415.00,17.32 418.00,17.25 421.00,17.19 424.00,17.14 427.00,17.10 430.00,17.07 433.00,17.05 436.00,17.05 439.00,17.06 442.00,17.09 445.00,17.12 448.00,17.17 451.00,17.23 454.00,17.29 457.00,17.36 460.00,17.43 463.00,17.50 466.00,17.57 469.00,17.62 472.00,17.67 475.00,17.71 478.00,17.74 481.00,17.75 484.00,17.75 487.00,17.73 490.00,17.70 493.00,17.66 496.00,17.61 499.00,17.55 502.00,17.49 505.00,17.42 508.00,17.35 511.00,17.28 514.00,17.22 517.00,17.16 520.00,17.11 523.00,17.08 526.00,17.06 529.00,17.05 532.00,17.06 535.00,17.08" stroke="#111" stroke-width="1.7" fill="none" stroke-linejoin="round"/>
<polyline points="412.00,23.04 415.00,23.05 418.00,23.04 421.00,23.02 424.00,22.99 427.00,22.94 430.00,22.89 433.00,22.83 436.00,22.76 439.00,22.69 442.00,22.62 445.00,22.55 448.00,22.49 451.00,22.44 454.00,22.40 457.00,22.37 460.00,22.35 463.00,22.35 466.00,22.36 469.00,22.39 472.00,22.42 475.00,22.47 478.00,22.53 481.00,22.59 484.00,22.66 487.00,22.73 490.00,22.80 493.00,22.86 496.00,22.92 499.00,22.97 502.00,23.01 505.00,23.04 508.00,23.05 511.00,23.05 514.00,23.03 517.00,23.00 520.00,22.96 523.00,22.91 526.00,22.85 529.00,22.79 532.00,22.72 535.00,22.65" stroke="#111" stroke-width="1.5" fill="none" stroke-linejoin="round"/>
<polyline points="412.00,17.83 414.00,17.83 416.00,17.85 418.00,17.88 420.00,17.94 422.00,18.01 424.00,18.10 426.00,18.20 428.00,18.32 430.00,18.45 432.00,18.60 434.00,18.76 436.00,18.92 438.00,19.10 440.00,19.28 442.00,19.47 444.00,19.67 446.00,19.86 448.00,20.06 450.00,20.26 452.00,20.45 454.00,20.64 456.00,20.83 458.00,21.01 460.00,21.18 462.00,21.34 464.00,21.49 466.00,21.63 468.00,21.75 470.00,21.86 472.00,21.96 474.00,22.04 476.00,22.10 478.00,22.14 480.00,22.17 482.00,22.18 484.00,22.17 486.00,22.14 488.00,22.09 490.00,22.03 492.00,21.95 494.00,21.86 496.00,21.75 498.00,21.62 500.00,21.48 502.00,21.33 504.00,21.17 506.00,21.00 508.00,20.82 510.00,20.63 512.00,20.44 514.00,20.25 516.00,20.05 518.00,19.85 520.00,19.66 522.00,19.46 524.00,19.27 526.00,19.09 528.00,18.91 530.00,18.75 532.00,18.59 535.00,18.45" stroke="#333" stroke-width="1.1" fill="none" stroke-linejoin="round"/>
<polyline points="412.00,19.09 415.00,19.18 418.00,19.25 421.00,19.30 424.00,19.33 427.00,19.34 430.00,19.33 433.00,19.29 436.00,19.24 439.00,19.17 442.00,19.08 445.00,18.97 448.00,18.86 451.00,18.74 454.00,18.62 457.00,18.49 460.00,18.38 463.00,18.27 466.00,18.17 469.00,18.08 472.00,18.02 475.00,17.97 478.00,17.95 481.00,17.94 484.00,17.96 487.00,18.00 490.00,18.05 493.00,18.13 496.00,18.22 499.00,18.33 502.00,18.44 505.00,18.56 508.00,18.69 511.00,18.81 514.00,18.93 517.00,19.03 520.00,19.13 523.00,19.21 526.00,19.27 529.00,19.32 532.00,19.34 535.00,19.34" stroke="#f4f4f4" stroke-width="0.8" fill="none" stroke-linejoin="round"/>
<polyline points="412.00,21.92 415.00,21.84 418.00,21.74 421.00,21.63 424.00,21.51 427.00,21.39 430.00,21.27 433.00,21.15 436.00,21.03 439.00,20.93 442.00,20.84 445.00,20.77 448.00,20.71 451.00,20.67 454.00,20.66 457.00,20.67 460.00,20.70 463.00,20.75 466.00,20.81 469.00,20.90 472.00,21.00 475.00,21.11 478.00,21.23 481.00,21.35 484.00,21.48 487.00,21.60 490.00,21.71 493.00,21.81 496.00,21.90 499.00,21.97 502.00,22.02 505.00,22.05 508.00,22.06 511.00,22.05 514.00,22.02 517.00,21.96 520.00,21.89 523.00,21.80 526.00,21.70 529.00,21.59 532.00,21.47 535.00,21.34" stroke="#f4f4f4" stroke-width="0.8" fill="none" stroke-linejoin="round"/>
<rect x="412" y="29.60" width="123" height="6.20" fill="#d4d4d4"/>
<polyline points="412.00,30.71 415.00,30.67 418.00,30.62 421.00,30.56 424.00,30.50 427.00,30.43 430.00,30.36 433.00,30.29 436.00,30.23 439.00,30.17 442.00,30.12 445.00,30.09 448.00,30.06 451.00,30.05 454.00,30.05 457.00,30.07 460.00,30.10 463.00,30.14 466.00,30.19 469.00,30.25 472.00,30.32 475.00,30.39 478.00,30.46 481.00,30.53 484.00,30.59 487.00,30.64 490.00,30.69 493.00,30.72 496.00,30.74 499.00,30.75 502.00,30.74 505.00,30.72 508.00,30.69 511.00,30.64 514.00,30.59 517.00,30.53 520.00,30.46 523.00,30.39 526.00,30.32 529.00,30.25 532.00,30.19 535.00,30.14" stroke="#111" stroke-width="1.7" fill="none" stroke-linejoin="round"/>
<polyline points="412.00,35.42 415.00,35.38 418.00,35.34 421.00,35.28 424.00,35.22 427.00,35.15 430.00,35.08 433.00,35.01 436.00,34.94 439.00,34.88 442.00,34.83 445.00,34.79 448.00,34.77 451.00,34.75 454.00,34.75 457.00,34.76 460.00,34.79 463.00,34.83 466.00,34.88 469.00,34.94 472.00,35.00 475.00,35.07 478.00,35.14 481.00,35.21 484.00,35.27 487.00,35.33 490.00,35.38 493.00,35.42 496.00,35.44 499.00,35.45 502.00,35.45 505.00,35.43 508.00,35.40 511.00,35.36 514.00,35.30 517.00,35.24 520.00,35.18 523.00,35.11 526.00,35.04 529.00,34.97 532.00,34.91 535.00,34.85" stroke="#111" stroke-width="1.5" fill="none" stroke-linejoin="round"/>
<polyline points="412.00,33.16 414.00,33.33 416.00,33.50 418.00,33.66 420.00,33.81 422.00,33.96 424.00,34.09 426.00,34.22 428.00,34.33 430.00,34.42 432.00,34.50 434.00,34.57 436.00,34.62 438.00,34.66 440.00,34.68 442.00,34.68 444.00,34.67 446.00,34.64 448.00,34.60 450.00,34.54 452.00,34.46 454.00,34.37 456.00,34.26 458.00,34.15 460.00,34.02 462.00,33.88 464.00,33.73 466.00,33.57 468.00,33.40 470.00,33.23 472.00,33.06 474.00,32.88 476.00,32.70 478.00,32.52 480.00,32.34 482.00,32.16 484.00,31.99 486.00,31.83 488.00,31.67 490.00,31.52 492.00,31.38 494.00,31.25 496.00,31.13 498.00,31.03 500.00,30.94 502.00,30.86 504.00,30.80 506.00,30.76 508.00,30.73 510.00,30.72 512.00,30.72 514.00,30.74 516.00,30.78 518.00,30.83 520.00,30.90 522.00,30.98 524.00,31.08 526.00,31.19 528.00,31.31 530.00,31.44 532.00,31.59 535.00,31.74" stroke="#333" stroke-width="1.1" fill="none" stroke-linejoin="round"/>
<polyline points="412.00,31.21 415.00,31.33 418.00,31.45 421.00,31.57 424.00,31.69 427.00,31.81 430.00,31.91 433.00,32.00 436.00,32.07 439.00,32.12 442.00,32.15 445.00,32.16 448.00,32.15 451.00,32.12 454.00,32.06 457.00,31.99 460.00,31.90 463.00,31.80 466.00,31.69 469.00,31.57 472.00,31.44 475.00,31.32 478.00,31.20 481.00,31.09 484.00,30.99 487.00,30.91 490.00,30.84 493.00,30.79 496.00,30.77 499.00,30.76 502.00,30.78 505.00,30.81 508.00,30.87 511.00,30.95 514.00,31.04 517.00,31.14 520.00,31.26 523.00,31.38 526.00,31.50 529.00,31.62 532.00,31.74 535.00,31.85" stroke="#f4f4f4" stroke-width="0.8" fill="none" stroke-linejoin="round"/>
<polyline points="412.00,33.29 415.00,33.25 418.00,33.24 421.00,33.25 424.00,33.28 427.00,33.33 430.00,33.40 433.00,33.49 436.00,33.59 439.00,33.70 442.00,33.82 445.00,33.95 448.00,34.07 451.00,34.19 454.00,34.30 457.00,34.40 460.00,34.48 463.00,34.55 466.00,34.60 469.00,34.63 472.00,34.64 475.00,34.63 478.00,34.59 481.00,34.54 484.00,34.46 487.00,34.37 490.00,34.27 493.00,34.15 496.00,34.03 499.00,33.91 502.00,33.79 505.00,33.67 508.00,33.56 511.00,33.46 514.00,33.38 517.00,33.32 520.00,33.27 523.00,33.24 526.00,33.24 529.00,33.26 532.00,33.30 535.00,33.36" stroke="#f4f4f4" stroke-width="0.8" fill="none" stroke-linejoin="round"/>
<rect x="412" y="41.70" width="123" height="6.90" fill="#d4d4d4"/>
<polyline points="412.00,42.28 415.00,42.23 418.00,42.19 421.00,42.16 424.00,42.15 427.00,42.15 430.00,42.17 433.00,42.20 436.00,42.24 439.00,42.29 442.00,42.35 445.00,42.41 448.00,42.48 451.00,42.55 454.00,42.62 457.00,42.68 460.00,42.74 463.00,42.78 466.00,42.82 469.00,42.84 472.00,42.85 475.00,42.84 478.00,42.83 481.00,42.79 484.00,42.75 487.00,42.70 490.00,42.64 493.00,42.57 496.00,42.50 499.00,42.43 502.00,42.36 505.00,42.30 508.00,42.25 511.00,42.20 514.00,42.17 517.00,42.15 520.00,42.15 523.00,42.16 526.00,42.18 529.00,42.22 532.00,42.26 535.00,42.32" stroke="#111" stroke-width="1.7" fill="none" stroke-linejoin="round"/>
<polyline points="412.00,47.72 415.00,47.79 418.00,47.85 421.00,47.92 424.00,47.99 427.00,48.06 430.00,48.12 433.00,48.17 436.00,48.21 439.00,48.23 442.00,48.25 445.00,48.25 448.00,48.23 451.00,48.21 454.00,48.17 457.00,48.12 460.00,48.06 463.00,47.99 466.00,47.93 469.00,47.86 472.00,47.79 475.00,47.72 478.00,47.67 481.00,47.62 484.00,47.58 487.00,47.56 490.00,47.55 493.00,47.55 496.00,47.57 499.00,47.60 502.00,47.65 505.00,47.70 508.00,47.76 511.00,47.83 514.00,47.89 517.00,47.96 520.00,48.03 523.00,48.09 526.00,48.15 529.00,48.19 532.00,48.22 535.00,48.24" stroke="#111" stroke-width="1.5" fill="none" stroke-linejoin="round"/>
<polyline points="412.00,46.93 414.00,46.81 416.00,46.67 418.00,46.52 420.00,46.35 422.00,46.18 424.00,46.00 426.00,45.81 428.00,45.62 430.00,45.42 432.00,45.22 434.00,45.02 436.00,44.82 438.00,44.62 440.00,44.43 442.00,44.24 444.00,44.06 446.00,43.89 448.00,43.73 450.00,43.59 452.00,43.45 454.00,43.33 456.00,43.22 458.00,43.13 460.00,43.06 462.00,43.00 464.00,42.97 466.00,42.95 468.00,42.94 470.00,42.96 472.00,42.99 474.00,43.05 476.00,43.11 478.00,43.20 480.00,43.30 482.00,43.42 484.00,43.55 486.00,43.70 488.00,43.85 490.00,44.02 492.00,44.20 494.00,44.38 496.00,44.57 498.00,44.77 500.00,44.97 502.00,45.17 504.00,45.37 506.00,45.57 508.00,45.76 510.00,45.95 512.00,46.14 514.00,46.31 516.00,46.48 518.00,46.63 520.00,46.77 522.00,46.90 524.00,47.02 526.00,47.12 528.00,47.20 530.00,47.27 532.00,47.31 535.00,47.35" stroke="#333" stroke-width="1.1" fill="none" stroke-linejoin="round"/>
<polyline points="412.00,43.94 415.00,43.82 418.00,43.70 421.00,43.57 424.00,43.46 427.00,43.35 430.00,43.26 433.00,43.19 436.00,43.13 439.00,43.09 442.00,43.07 445.00,43.08 448.00,43.10 451.00,43.15 454.00,43.21 457.00,43.30 460.00,43.40 463.00,43.51 466.00,43.62 469.00,43.75 472.00,43.87 475.00,43.99 478.00,44.10 481.00,44.21 484.00,44.29 487.00,44.37 490.00,44.42 493.00,44.46 496.00,44.47 499.00,44.46 502.00,44.43 505.00,44.38 508.00,44.31 511.00,44.22 514.00,44.12 517.00,44.01 520.00,43.89 523.00,43.77 526.00,43.65 529.00,43.53 532.00,43.42 535.00,43.32" stroke="#f4f4f4" stroke-width="0.8" fill="none" stroke-linejoin="round"/>
<polyline points="412.00,46.61 415.00,46.48 418.00,46.36 421.00,46.24 424.00,46.14 427.00,46.04 430.00,45.96 433.00,45.90 436.00,45.86 439.00,45.83 442.00,45.83 445.00,45.85 448.00,45.90 451.00,45.96 454.00,46.04 457.00,46.13 460.00,46.24 463.00,46.36 466.00,46.48 469.00,46.60 472.00,46.72 475.00,46.84 478.00,46.94 481.00,47.04 484.00,47.11 487.00,47.17 490.00,47.21 493.00,47.23 496.00,47.23 499.00,47.20 502.00,47.15 505.00,47.09 508.00,47.00 511.00,46.91 514.00,46.80 517.00,46.68 520.00,46.56 523.00,46.43 526.00,46.31 529.00,46.20 532.00,46.10 535.00,46.01" stroke="#f4f4f4" stroke-width="0.8" fill="none" stroke-linejoin="round"/>
<line x1="439.30" y1="13.10" x2="462.50" y2="13.10" stroke="#000" stroke-width="1.2"/>
<polygon points="436.8,13.1 441.0,10.899999999999999 441.0,15.3" fill="#000"/>
<polygon points="465.0,13.1 460.8,10.899999999999999 460.8,15.3" fill="#000"/>
<line x1="439.30" y1="26.00" x2="471.20" y2="26.00" stroke="#000" stroke-width="1.2"/>
<polygon points="436.8,26.0 441.0,23.8 441.0,28.2" fill="#000"/>
<polygon points="473.7,26.0 469.5,23.8 469.5,28.2" fill="#000"/>
<line x1="439.30" y1="39.60" x2="484.20" y2="39.60" stroke="#000" stroke-width="1.2"/>
<polygon points="436.8,39.6 441.0,37.4 441.0,41.800000000000004" fill="#000"/>
<polygon points="486.7,39.6 482.5,37.4 482.5,41.800000000000004" fill="#000"/>
<rect x="412" y="61.30" width="99" height="4.70" fill="#d4d4d4"/>
<polyline points="412.00,61.88 415.00,61.83 418.00,61.79 421.00,61.77 424.00,61.75 427.00,61.75 430.00,61.77 433.00,61.79 436.00,61.83 439.00,61.88 442.00,61.94 445.00,62.01 448.00,62.08 451.00,62.15 454.00,62.21 457.00,62.28 460.00,62.33 463.00,62.38 466.00,62.42 469.00,62.44 472.00,62.45 475.00,62.45 478.00,62.43 481.00,62.40 484.00,62.35 487.00,62.30 490.00,62.24 493.00,62.17 496.00,62.10 499.00,62.03 502.00,61.97 505.00,61.90 508.00,61.85 511.00,61.81" stroke="#111" stroke-width="1.7" fill="none" stroke-linejoin="round"/>
<polyline points="412.00,65.36 415.00,65.29 418.00,65.22 421.00,65.15 424.00,65.09 427.00,65.04 430.00,65.00 433.00,64.97 436.00,64.95 439.00,64.95 442.00,64.96 445.00,64.99 448.00,65.03 451.00,65.07 454.00,65.13 457.00,65.20 460.00,65.26 463.00,65.33 466.00,65.40 469.00,65.47 472.00,65.53 475.00,65.57 478.00,65.61 481.00,65.64 484.00,65.65 487.00,65.65 490.00,65.63 493.00,65.60 496.00,65.56 499.00,65.51 502.00,65.45 505.00,65.38 508.00,65.32 511.00,65.25" stroke="#111" stroke-width="1.5" fill="none" stroke-linejoin="round"/>
<polyline points="412.00,64.70 414.00,64.60 416.00,64.49 418.00,64.38 420.00,64.25 422.00,64.13 424.00,63.99 426.00,63.86 428.00,63.72 430.00,63.59 432.00,63.45 434.00,63.32 436.00,63.19 438.00,63.06 440.00,62.93 442.00,62.82 444.00,62.71 446.00,62.60 448.00,62.51 450.00,62.43 452.00,62.35 454.00,62.29 456.00,62.24 458.00,62.20 460.00,62.17 462.00,62.15 464.00,62.15 466.00,62.15 468.00,62.18 470.00,62.21 472.00,62.25 474.00,62.31 476.00,62.38 478.00,62.46 480.00,62.54 482.00,62.64 484.00,62.75 486.00,62.86 488.00,62.98 490.00,63.10 492.00,63.23 494.00,63.36 496.00,63.50 498.00,63.64 500.00,63.77 502.00,63.91 504.00,64.04 506.00,64.17 508.00,64.30 511.00,64.42" stroke="#333" stroke-width="1.1" fill="none" stroke-linejoin="round"/>
<polyline points="412.00,62.76 415.00,62.88 418.00,63.00 421.00,63.11 424.00,63.20 427.00,63.28 430.00,63.34 433.00,63.39 436.00,63.41 439.00,63.41 442.00,63.38 445.00,63.34 448.00,63.28 451.00,63.20 454.00,63.10 457.00,62.99 460.00,62.88 463.00,62.76 466.00,62.63 469.00,62.51 472.00,62.40 475.00,62.29 478.00,62.20 481.00,62.12 484.00,62.07 487.00,62.03 490.00,62.01 493.00,62.02 496.00,62.04 499.00,62.09 502.00,62.16 505.00,62.24 508.00,62.34 511.00,62.45" stroke="#f4f4f4" stroke-width="0.8" fill="none" stroke-linejoin="round"/>
<polyline points="412.00,64.27 415.00,64.38 418.00,64.50 421.00,64.62 424.00,64.75 427.00,64.86 430.00,64.97 433.00,65.07 436.00,65.15 439.00,65.22 442.00,65.26 445.00,65.29 448.00,65.29 451.00,65.27 454.00,65.23 457.00,65.17 460.00,65.09 463.00,65.00 466.00,64.89 469.00,64.78 472.00,64.65 475.00,64.53 478.00,64.41 481.00,64.29 484.00,64.19 487.00,64.09 490.00,64.01 493.00,63.95 496.00,63.91 499.00,63.89 502.00,63.89 505.00,63.92 508.00,63.96 511.00,64.02" stroke="#f4f4f4" stroke-width="0.8" fill="none" stroke-linejoin="round"/>
<rect x="412" y="71.20" width="99" height="4.80" fill="#d4d4d4"/>
<polyline points="412.00,71.99 415.00,72.06 418.00,72.12 421.00,72.19 424.00,72.24 427.00,72.29 430.00,72.32 433.00,72.34 436.00,72.35 439.00,72.34 442.00,72.32 445.00,72.29 448.00,72.25 451.00,72.19 454.00,72.13 457.00,72.06 460.00,71.99 463.00,71.92 466.00,71.86 469.00,71.80 472.00,71.74 475.00,71.70 478.00,71.67 481.00,71.65 484.00,71.65 487.00,71.66 490.00,71.68 493.00,71.72 496.00,71.77 499.00,71.83 502.00,71.89 505.00,71.96 508.00,72.03 511.00,72.10" stroke="#111" stroke-width="1.7" fill="none" stroke-linejoin="round"/>
<polyline points="412.00,75.53 415.00,75.58 418.00,75.61 421.00,75.64 424.00,75.65 427.00,75.65 430.00,75.63 433.00,75.60 436.00,75.56 439.00,75.51 442.00,75.45 445.00,75.38 448.00,75.31 451.00,75.24 454.00,75.17 457.00,75.11 460.00,75.06 463.00,75.01 466.00,74.98 469.00,74.96 472.00,74.95 475.00,74.96 478.00,74.98 481.00,75.01 484.00,75.06 487.00,75.11 490.00,75.17 493.00,75.24 496.00,75.31 499.00,75.38 502.00,75.44 505.00,75.51 508.00,75.56 511.00,75.60" stroke="#111" stroke-width="1.5" fill="none" stroke-linejoin="round"/>
<polyline points="412.00,72.08 414.00,72.11 416.00,72.15 418.00,72.21 420.00,72.27 422.00,72.34 424.00,72.43 426.00,72.52 428.00,72.63 430.00,72.74 432.00,72.86 434.00,72.99 436.00,73.12 438.00,73.25 440.00,73.39 442.00,73.53 444.00,73.67 446.00,73.80 448.00,73.94 450.00,74.08 452.00,74.21 454.00,74.33 456.00,74.45 458.00,74.56 460.00,74.67 462.00,74.77 464.00,74.85 466.00,74.93 468.00,74.99 470.00,75.04 472.00,75.09 474.00,75.12 476.00,75.13 478.00,75.14 480.00,75.13 482.00,75.11 484.00,75.07 486.00,75.03 488.00,74.97 490.00,74.90 492.00,74.82 494.00,74.73 496.00,74.63 498.00,74.52 500.00,74.41 502.00,74.29 504.00,74.16 506.00,74.03 508.00,73.89 511.00,73.75" stroke="#333" stroke-width="1.1" fill="none" stroke-linejoin="round"/>
<polyline points="412.00,71.97 415.00,72.02 418.00,72.09 421.00,72.17 424.00,72.27 427.00,72.38 430.00,72.50 433.00,72.62 436.00,72.74 439.00,72.86 442.00,72.98 445.00,73.08 448.00,73.17 451.00,73.24 454.00,73.29 457.00,73.33 460.00,73.34 463.00,73.33 466.00,73.30 469.00,73.25 472.00,73.18 475.00,73.09 478.00,72.99 481.00,72.88 484.00,72.76 487.00,72.63 490.00,72.51 493.00,72.39 496.00,72.28 499.00,72.18 502.00,72.10 505.00,72.03 508.00,71.98 511.00,71.95" stroke="#f4f4f4" stroke-width="0.8" fill="none" stroke-linejoin="round"/>
<polyline points="412.00,74.16 415.00,74.07 418.00,73.99 421.00,73.92 424.00,73.88 427.00,73.86 430.00,73.86 433.00,73.89 436.00,73.93 439.00,73.99 442.00,74.07 445.00,74.17 448.00,74.28 451.00,74.39 454.00,74.52 457.00,74.64 460.00,74.76 463.00,74.87 466.00,74.98 469.00,75.07 472.00,75.15 475.00,75.21 478.00,75.24 481.00,75.26 484.00,75.25 487.00,75.23 490.00,75.18 493.00,75.11 496.00,75.03 499.00,74.93 502.00,74.82 505.00,74.70 508.00,74.58 511.00,74.46" stroke="#f4f4f4" stroke-width="0.8" fill="none" stroke-linejoin="round"/>
<rect x="412" y="81.80" width="99" height="5.20" fill="#d4d4d4"/>
<polyline points="412.00,82.90 415.00,82.93 418.00,82.95 421.00,82.95 424.00,82.94 427.00,82.91 430.00,82.88 433.00,82.83 436.00,82.77 439.00,82.71 442.00,82.64 445.00,82.57 448.00,82.50 451.00,82.43 454.00,82.38 457.00,82.33 460.00,82.29 463.00,82.26 466.00,82.25 469.00,82.25 472.00,82.27 475.00,82.30 478.00,82.34 481.00,82.39 484.00,82.45 487.00,82.51 490.00,82.58 493.00,82.65 496.00,82.72 499.00,82.78 502.00,82.84 505.00,82.88 508.00,82.92 511.00,82.94" stroke="#111" stroke-width="1.7" fill="none" stroke-linejoin="round"/>
<polyline points="412.00,86.63 415.00,86.65 418.00,86.65 421.00,86.64 424.00,86.62 427.00,86.58 430.00,86.53 433.00,86.48 436.00,86.41 439.00,86.35 442.00,86.28 445.00,86.21 448.00,86.14 451.00,86.08 454.00,86.03 457.00,85.99 460.00,85.97 463.00,85.95 466.00,85.95 469.00,85.97 472.00,85.99 475.00,86.03 478.00,86.08 481.00,86.14 484.00,86.21 487.00,86.28 490.00,86.35 493.00,86.41 496.00,86.48 499.00,86.53 502.00,86.58 505.00,86.62 508.00,86.64 511.00,86.65" stroke="#111" stroke-width="1.5" fill="none" stroke-linejoin="round"/>
<polyline points="412.00,84.76 414.00,84.61 416.00,84.46 418.00,84.31 420.00,84.16 422.00,84.01 424.00,83.86 426.00,83.72 428.00,83.59 430.00,83.46 432.00,83.34 434.00,83.23 436.00,83.12 438.00,83.03 440.00,82.95 442.00,82.88 444.00,82.83 446.00,82.78 448.00,82.76 450.00,82.74 452.00,82.74 454.00,82.75 456.00,82.77 458.00,82.81 460.00,82.86 462.00,82.93 464.00,83.00 466.00,83.09 468.00,83.19 470.00,83.30 472.00,83.42 474.00,83.54 476.00,83.68 478.00,83.81 480.00,83.96 482.00,84.11 484.00,84.26 486.00,84.41 488.00,84.56 490.00,84.71 492.00,84.85 494.00,85.00 496.00,85.14 498.00,85.27 500.00,85.39 502.00,85.51 504.00,85.62 506.00,85.72 508.00,85.80 511.00,85.88" stroke="#333" stroke-width="1.1" fill="none" stroke-linejoin="round"/>
<polyline points="412.00,83.83 415.00,83.92 418.00,83.98 421.00,84.03 424.00,84.06 427.00,84.06 430.00,84.04 433.00,84.00 436.00,83.94 439.00,83.87 442.00,83.77 445.00,83.67 448.00,83.55 451.00,83.43 454.00,83.31 457.00,83.19 460.00,83.07 463.00,82.96 466.00,82.87 469.00,82.79 472.00,82.73 475.00,82.68 478.00,82.66 481.00,82.66 484.00,82.69 487.00,82.73 490.00,82.79 493.00,82.87 496.00,82.97 499.00,83.07 502.00,83.19 505.00,83.31 508.00,83.44 511.00,83.56" stroke="#f4f4f4" stroke-width="0.8" fill="none" stroke-linejoin="round"/>
<polyline points="412.00,84.89 415.00,84.98 418.00,85.08 421.00,85.19 424.00,85.31 427.00,85.43 430.00,85.55 433.00,85.67 436.00,85.79 439.00,85.89 442.00,85.98 445.00,86.05 448.00,86.10 451.00,86.13 454.00,86.14 457.00,86.13 460.00,86.10 463.00,86.04 466.00,85.97 469.00,85.88 472.00,85.78 475.00,85.67 478.00,85.55 481.00,85.42 484.00,85.30 487.00,85.18 490.00,85.07 493.00,84.97 496.00,84.89 499.00,84.82 502.00,84.77 505.00,84.75 508.00,84.74 511.00,84.76" stroke="#f4f4f4" stroke-width="0.8" fill="none" stroke-linejoin="round"/>
<line x1="439.30" y1="58.30" x2="451.20" y2="58.30" stroke="#000" stroke-width="1.2"/>
<polygon points="436.8,58.3 441.0,56.099999999999994 441.0,60.5" fill="#000"/>
<polygon points="453.7,58.3 449.5,56.099999999999994 449.5,60.5" fill="#000"/>
<line x1="439.30" y1="68.80" x2="459.50" y2="68.80" stroke="#000" stroke-width="1.2"/>
<polygon points="436.8,68.8 441.0,66.6 441.0,71.0" fill="#000"/>
<polygon points="462.0,68.8 457.8,66.6 457.8,71.0" fill="#000"/>
<line x1="439.30" y1="79.60" x2="468.50" y2="79.60" stroke="#000" stroke-width="1.2"/>
<polygon points="436.8,79.6 441.0,77.39999999999999 441.0,81.8" fill="#000"/>
<polygon points="471.0,79.6 466.8,77.39999999999999 466.8,81.8" fill="#000"/>
<line x1="448.00" y1="91.40" x2="483.30" y2="91.40" stroke="#000" stroke-width="1.3"/>
<text x="465.5" y="100.3" font-size="7.1" text-anchor="middle">200um</text>
<path d="M537.30 19.10L544.10 19.10M538.30 16.70L543.10 21.50M540.70 15.70L540.70 22.50M543.10 16.70L538.30 21.50" stroke="#000" stroke-width="1.0"/>
<circle cx="540.70" cy="19.10" r="1.53" fill="#000"/>
<polygon points="540.70,29.46 544.50,35.86 536.90,35.86" stroke="#000" stroke-width="1.0" fill="#fff" stroke-linejoin="miter"/>
<circle cx="540.70" cy="46.60" r="3.3" stroke="#000" stroke-width="1.0" fill="#fff"/>
<text x="552.4" y="31.3" font-size="9.3" text-anchor="middle" transform="rotate(90 552.4 31.3)" dy="3.3">Nichrome</text>
<path d="M516.50 61.80L523.30 61.80M517.50 59.40L522.30 64.20M519.90 58.40L519.90 65.20M522.30 59.40L517.50 64.20" stroke="#000" stroke-width="1.0"/>
<circle cx="519.90" cy="61.80" r="1.53" fill="#000"/>
<polygon points="519.90,68.66 523.70,75.06 516.10,75.06" stroke="#000" stroke-width="1.0" fill="#fff" stroke-linejoin="miter"/>
<circle cx="519.90" cy="83.90" r="3.3" stroke="#000" stroke-width="1.0" fill="#fff"/>
<text x="531.5" y="76.5" font-size="9.4" text-anchor="middle" transform="rotate(90 531.5 76.5)" dy="3.3">Tungsten</text>
<text x="2.4" y="113.9" font-size="16.6" text-anchor="start">B</text>
<line x1="55.30" y1="129.00" x2="55.30" y2="440.30" stroke="#444" stroke-width="1.0"/>
<line x1="55.30" y1="440.30" x2="229.80" y2="440.30" stroke="#444" stroke-width="1.0"/>
<line x1="52.00" y1="440.30" x2="55.30" y2="440.30" stroke="#444" stroke-width="1.0"/>
<line x1="52.00" y1="395.91" x2="55.30" y2="395.91" stroke="#444" stroke-width="1.0"/>
<line x1="52.00" y1="351.52" x2="55.30" y2="351.52" stroke="#444" stroke-width="1.0"/>
<line x1="52.00" y1="307.13" x2="55.30" y2="307.13" stroke="#444" stroke-width="1.0"/>
<line x1="52.00" y1="262.74" x2="55.30" y2="262.74" stroke="#444" stroke-width="1.0"/>
<line x1="52.00" y1="218.35" x2="55.30" y2="218.35" stroke="#444" stroke-width="1.0"/>
<line x1="52.00" y1="173.96" x2="55.30" y2="173.96" stroke="#444" stroke-width="1.0"/>
<line x1="52.00" y1="129.57" x2="55.30" y2="129.57" stroke="#444" stroke-width="1.0"/>
<text x="48.3" y="443.6" font-size="9.2" text-anchor="end">0</text>
<text x="43.5" y="399.21000000000004" font-size="9.2" text-anchor="end">0.005</text>
<text x="45.4" y="354.82" font-size="9.2" text-anchor="end">0.01</text>
<text x="43.9" y="310.43" font-size="9.2" text-anchor="end">0.015</text>
<text x="45.3" y="266.04" font-size="9.2" text-anchor="end">0.02</text>
<text x="43.2" y="221.65000000000003" font-size="9.2" text-anchor="end">0.025</text>
<text x="45.6" y="177.26" font-size="9.2" text-anchor="end">0.03</text>
<text x="42.6" y="132.87" font-size="9.2" text-anchor="end">0.035</text>
<line x1="55.30" y1="440.30" x2="55.30" y2="443.80" stroke="#333" stroke-width="1.0"/>
<text x="55.3" y="456.0" font-size="10.0" text-anchor="middle">0</text>
<line x1="98.95" y1="440.30" x2="98.95" y2="443.80" stroke="#333" stroke-width="1.0"/>
<text x="98.95" y="456.0" font-size="10.0" text-anchor="middle">5</text>
<line x1="142.60" y1="440.30" x2="142.60" y2="443.80" stroke="#333" stroke-width="1.0"/>
<text x="142.60000000000002" y="456.0" font-size="10.0" text-anchor="middle">10</text>
<line x1="186.25" y1="440.30" x2="186.25" y2="443.80" stroke="#333" stroke-width="1.0"/>
<text x="186.25" y="456.0" font-size="10.0" text-anchor="middle">15</text>
<line x1="229.90" y1="440.30" x2="229.90" y2="443.80" stroke="#333" stroke-width="1.0"/>
<text x="229.90000000000003" y="456.0" font-size="10.0" text-anchor="middle">20</text>
<text x="142.6" y="469.0" font-size="9.0" text-anchor="middle" font-style="italic">ΔL (μM)</text>
<text x="6.0" y="267.6" font-size="9.7" text-anchor="middle" transform="rotate(-90 6.0 267.6)" dy="3.4">Tetrode force (mN)</text>
<text x="89.0" y="132.7" font-size="9.6" text-anchor="middle">Buckling</text>
<text x="89.3" y="144.8" font-size="9.6" text-anchor="middle">point</text>
<rect x="79.5" y="149.7" width="19.3" height="287.6" rx="4.5" stroke="#000" stroke-width="1.0" fill="none" stroke-dasharray="3.2,2.4"/>
<polyline points="55.30,440.30 90.22,159.20 125.14,156.30 160.06,154.20 194.98,152.70" stroke="#000" stroke-width="1.0" fill="none" stroke-linejoin="round"/>
<polyline points="194.98,152.70 229.90,152.70" stroke="#999" stroke-width="1.0" fill="none" stroke-linejoin="round"/>
<polyline points="55.30,440.30 90.22,161.80 125.14,156.60 160.06,155.40 194.98,162.20 229.90,167.20" stroke="#000" stroke-width="1.0" fill="none" stroke-linejoin="round"/>
<polyline points="55.30,440.30 90.22,201.50 125.14,183.80 160.06,178.40 194.98,176.10 229.90,175.50" stroke="#000" stroke-width="1.0" fill="none" stroke-linejoin="round"/>
<polyline points="55.30,440.30 90.22,208.00 125.14,202.10 160.06,195.60 194.98,191.70 229.90,186.70" stroke="#000" stroke-width="1.0" fill="none" stroke-linejoin="round"/>
<polyline points="55.30,440.30 90.22,243.50 125.14,210.10 160.06,209.50 194.98,211.00 229.90,209.50" stroke="#000" stroke-width="1.0" fill="none" stroke-linejoin="round"/>
<polyline points="55.30,440.30 90.22,370.20 125.14,358.00 160.06,356.60 194.98,356.60 229.90,356.60" stroke="#888" stroke-width="1.1" fill="none" stroke-linejoin="round"/>
<polyline points="55.30,440.30 90.22,373.00 125.14,361.50 160.06,361.00 194.98,361.50 229.90,361.50" stroke="#000" stroke-width="1.1" fill="none" stroke-linejoin="round"/>
<polyline points="55.30,440.30 90.22,375.40 125.14,365.00 160.06,364.00 194.98,364.00 229.90,364.00" stroke="#888" stroke-width="1.1" fill="none" stroke-linejoin="round"/>
<polyline points="55.30,440.30 90.22,378.00 125.14,371.00 160.06,369.50 194.98,369.00 229.90,369.00" stroke="#000" stroke-width="1.1" fill="none" stroke-linejoin="round"/>
<polyline points="55.30,440.30 90.22,385.90 125.14,374.00 160.06,372.50 194.98,372.50 229.90,372.50" stroke="#888" stroke-width="1.1" fill="none" stroke-linejoin="round"/>
<polyline points="55.30,440.30 90.22,396.00 125.14,396.80 160.06,396.80 194.98,396.80 229.90,396.80" stroke="#000" stroke-width="1.1" fill="none" stroke-linejoin="round"/>
<polyline points="55.30,440.30 90.22,398.00 125.14,397.60 160.06,397.60 194.98,397.60 229.90,397.60" stroke="#000" stroke-width="1.1" fill="none" stroke-linejoin="round"/>
<polyline points="55.30,440.30 90.22,400.50 125.14,399.00 160.06,398.80 194.98,398.80 229.90,398.80" stroke="#888" stroke-width="1.1" fill="none" stroke-linejoin="round"/>
<polyline points="55.30,440.30 90.22,405.00 125.14,407.60 160.06,406.20 194.98,405.60 229.90,405.20" stroke="#000" stroke-width="1.1" fill="none" stroke-linejoin="round"/>
<polyline points="55.30,440.30 90.22,403.00 125.14,406.40 160.06,406.00 194.98,405.80 229.90,405.60" stroke="#888" stroke-width="1.1" fill="none" stroke-linejoin="round"/>
<polyline points="55.30,440.30 90.22,413.00 125.14,416.40 160.06,416.40 194.98,416.40 229.90,416.40" stroke="#888" stroke-width="1.1" fill="none" stroke-linejoin="round"/>
<polyline points="55.30,440.30 90.22,415.50 125.14,417.50 160.06,417.50 194.98,417.50 229.90,417.50" stroke="#000" stroke-width="1.1" fill="none" stroke-linejoin="round"/>
<polyline points="55.30,440.30 90.22,417.50 125.14,418.60 160.06,418.60 194.98,418.60 229.90,418.60" stroke="#888" stroke-width="1.1" fill="none" stroke-linejoin="round"/>
<polyline points="55.30,440.30 90.22,419.00 125.14,419.70 160.06,419.70 194.98,419.70 229.90,419.70" stroke="#000" stroke-width="1.1" fill="none" stroke-linejoin="round"/>
<polyline points="55.30,440.30 90.22,420.50 125.14,420.80 160.06,420.80 194.98,420.80 229.90,420.80" stroke="#888" stroke-width="1.1" fill="none" stroke-linejoin="round"/>
<polyline points="55.30,440.30 90.22,422.50 125.14,425.00 160.06,425.00 194.98,425.00 229.90,425.00" stroke="#000" stroke-width="1.1" fill="none" stroke-linejoin="round"/>
<polyline points="55.30,440.30 90.22,425.00 125.14,425.70 160.06,425.70 194.98,425.70 229.90,425.70" stroke="#888" stroke-width="1.1" fill="none" stroke-linejoin="round"/>
<polyline points="55.30,440.30 90.22,428.00 125.14,426.40 160.06,426.40 194.98,426.40 229.90,426.40" stroke="#888" stroke-width="1.1" fill="none" stroke-linejoin="round"/>
<polyline points="55.30,440.30 90.22,430.00 125.14,427.10 160.06,427.10 194.98,427.10 229.90,427.10" stroke="#888" stroke-width="1.1" fill="none" stroke-linejoin="round"/>
<polyline points="55.30,440.30 90.22,432.00 125.14,427.80 160.06,427.80 194.98,427.80 229.90,427.80" stroke="#000" stroke-width="1.1" fill="none" stroke-linejoin="round"/>
<circle cx="90.22" cy="159.20" r="3.9" stroke="#000" stroke-width="1.1" fill="#fff"/>
<circle cx="125.14" cy="156.30" r="3.9" stroke="#000" stroke-width="1.1" fill="#fff"/>
<circle cx="160.06" cy="154.20" r="3.9" stroke="#000" stroke-width="1.1" fill="#fff"/>
<circle cx="194.98" cy="152.70" r="3.9" stroke="#000" stroke-width="1.1" fill="#fff"/>
<circle cx="229.90" cy="152.70" r="3.9" stroke="#000" stroke-width="1.1" fill="#fff"/>
<polygon points="90.22,157.60 94.42,164.60 86.02,164.60" stroke="#000" stroke-width="1.1" fill="#fff" stroke-linejoin="miter"/>
<polygon points="125.14,152.40 129.34,159.40 120.94,159.40" stroke="#000" stroke-width="1.1" fill="#fff" stroke-linejoin="miter"/>
<polygon points="160.06,151.20 164.26,158.20 155.86,158.20" stroke="#000" stroke-width="1.1" fill="#fff" stroke-linejoin="miter"/>
<polygon points="194.98,158.00 199.18,165.00 190.78,165.00" stroke="#000" stroke-width="1.1" fill="#fff" stroke-linejoin="miter"/>
<polygon points="229.90,163.00 234.10,170.00 225.70,170.00" stroke="#000" stroke-width="1.1" fill="#fff" stroke-linejoin="miter"/>
<path d="M86.42 201.50L94.02 201.50M87.53 198.81L92.91 204.19M90.22 197.70L90.22 205.30M92.91 198.81L87.53 204.19" stroke="#000" stroke-width="1.1"/>
<circle cx="90.22" cy="201.50" r="1.71" fill="#000"/>
<path d="M121.34 183.80L128.94 183.80M122.45 181.11L127.83 186.49M125.14 180.00L125.14 187.60M127.83 181.11L122.45 186.49" stroke="#000" stroke-width="1.1"/>
<circle cx="125.14" cy="183.80" r="1.71" fill="#000"/>
<path d="M156.26 178.40L163.86 178.40M157.37 175.71L162.75 181.09M160.06 174.60L160.06 182.20M162.75 175.71L157.37 181.09" stroke="#000" stroke-width="1.1"/>
<circle cx="160.06" cy="178.40" r="1.71" fill="#000"/>
<path d="M191.18 176.10L198.78 176.10M192.29 173.41L197.67 178.79M194.98 172.30L194.98 179.90M197.67 173.41L192.29 178.79" stroke="#000" stroke-width="1.1"/>
<circle cx="194.98" cy="176.10" r="1.71" fill="#000"/>
<path d="M226.10 175.50L233.70 175.50M227.21 172.81L232.59 178.19M229.90 171.70L229.90 179.30M232.59 172.81L227.21 178.19" stroke="#000" stroke-width="1.1"/>
<circle cx="229.90" cy="175.50" r="1.71" fill="#000"/>
<polygon points="90.22,203.80 94.42,210.80 86.02,210.80" stroke="#000" stroke-width="1.1" fill="#fff" stroke-linejoin="miter"/>
<polygon points="125.14,197.90 129.34,204.90 120.94,204.90" stroke="#000" stroke-width="1.1" fill="#fff" stroke-linejoin="miter"/>
<polygon points="160.06,191.40 164.26,198.40 155.86,198.40" stroke="#000" stroke-width="1.1" fill="#fff" stroke-linejoin="miter"/>
<polygon points="194.98,187.50 199.18,194.50 190.78,194.50" stroke="#000" stroke-width="1.1" fill="#fff" stroke-linejoin="miter"/>
<polygon points="229.90,182.50 234.10,189.50 225.70,189.50" stroke="#000" stroke-width="1.1" fill="#fff" stroke-linejoin="miter"/>
<path d="M86.42 243.50L94.02 243.50M87.53 240.81L92.91 246.19M90.22 239.70L90.22 247.30M92.91 240.81L87.53 246.19" stroke="#000" stroke-width="1.1"/>
<circle cx="90.22" cy="243.50" r="1.71" fill="#000"/>
<path d="M121.34 210.10L128.94 210.10M122.45 207.41L127.83 212.79M125.14 206.30L125.14 213.90M127.83 207.41L122.45 212.79" stroke="#000" stroke-width="1.1"/>
<circle cx="125.14" cy="210.10" r="1.71" fill="#000"/>
<path d="M156.26 209.50L163.86 209.50M157.37 206.81L162.75 212.19M160.06 205.70L160.06 213.30M162.75 206.81L157.37 212.19" stroke="#000" stroke-width="1.1"/>
<circle cx="160.06" cy="209.50" r="1.71" fill="#000"/>
<path d="M191.18 211.00L198.78 211.00M192.29 208.31L197.67 213.69M194.98 207.20L194.98 214.80M197.67 208.31L192.29 213.69" stroke="#000" stroke-width="1.1"/>
<circle cx="194.98" cy="211.00" r="1.71" fill="#000"/>
<path d="M226.10 209.50L233.70 209.50M227.21 206.81L232.59 212.19M229.90 205.70L229.90 213.30M232.59 206.81L227.21 212.19" stroke="#000" stroke-width="1.1"/>
<circle cx="229.90" cy="209.50" r="1.71" fill="#000"/>
<polygon points="90.22,366.36 94.12,372.76 86.32,372.76" stroke="#000" stroke-width="1.0" fill="#fff" stroke-linejoin="miter"/>
<polygon points="125.14,354.16 129.04,360.56 121.24,360.56" stroke="#000" stroke-width="1.0" fill="#fff" stroke-linejoin="miter"/>
<polygon points="160.06,352.76 163.96,359.16 156.16,359.16" stroke="#000" stroke-width="1.0" fill="#fff" stroke-linejoin="miter"/>
<polygon points="194.98,352.76 198.88,359.16 191.08,359.16" stroke="#000" stroke-width="1.0" fill="#fff" stroke-linejoin="miter"/>
<polygon points="229.90,352.76 233.80,359.16 226.00,359.16" stroke="#000" stroke-width="1.0" fill="#fff" stroke-linejoin="miter"/>
<polygon points="90.22,369.16 94.12,375.56 86.32,375.56" stroke="#000" stroke-width="1.0" fill="#fff" stroke-linejoin="miter"/>
<polygon points="125.14,357.66 129.04,364.06 121.24,364.06" stroke="#000" stroke-width="1.0" fill="#fff" stroke-linejoin="miter"/>
<polygon points="160.06,357.16 163.96,363.56 156.16,363.56" stroke="#000" stroke-width="1.0" fill="#fff" stroke-linejoin="miter"/>
<polygon points="194.98,357.66 198.88,364.06 191.08,364.06" stroke="#000" stroke-width="1.0" fill="#fff" stroke-linejoin="miter"/>
<polygon points="229.90,357.66 233.80,364.06 226.00,364.06" stroke="#000" stroke-width="1.0" fill="#fff" stroke-linejoin="miter"/>
<circle cx="90.22" cy="375.40" r="3.4" stroke="#000" stroke-width="1.0" fill="#fff"/>
<circle cx="125.14" cy="365.00" r="3.4" stroke="#000" stroke-width="1.0" fill="#fff"/>
<circle cx="160.06" cy="364.00" r="3.4" stroke="#000" stroke-width="1.0" fill="#fff"/>
<circle cx="194.98" cy="364.00" r="3.4" stroke="#000" stroke-width="1.0" fill="#fff"/>
<circle cx="229.90" cy="364.00" r="3.4" stroke="#000" stroke-width="1.0" fill="#fff"/>
<path d="M86.82 378.00L93.62 378.00M87.82 375.60L92.62 380.40M90.22 374.60L90.22 381.40M92.62 375.60L87.82 380.40" stroke="#000" stroke-width="1.0"/>
<circle cx="90.22" cy="378.00" r="1.53" fill="#000"/>
<path d="M121.74 371.00L128.54 371.00M122.74 368.60L127.54 373.40M125.14 367.60L125.14 374.40M127.54 368.60L122.74 373.40" stroke="#000" stroke-width="1.0"/>
<circle cx="125.14" cy="371.00" r="1.53" fill="#000"/>
<path d="M156.66 369.50L163.46 369.50M157.66 367.10L162.46 371.90M160.06 366.10L160.06 372.90M162.46 367.10L157.66 371.90" stroke="#000" stroke-width="1.0"/>
<circle cx="160.06" cy="369.50" r="1.53" fill="#000"/>
<path d="M191.58 369.00L198.38 369.00M192.58 366.60L197.38 371.40M194.98 365.60L194.98 372.40M197.38 366.60L192.58 371.40" stroke="#000" stroke-width="1.0"/>
<circle cx="194.98" cy="369.00" r="1.53" fill="#000"/>
<path d="M226.50 369.00L233.30 369.00M227.50 366.60L232.30 371.40M229.90 365.60L229.90 372.40M232.30 366.60L227.50 371.40" stroke="#000" stroke-width="1.0"/>
<circle cx="229.90" cy="369.00" r="1.53" fill="#000"/>
<path d="M86.82 385.90L93.62 385.90M87.82 383.50L92.62 388.30M90.22 382.50L90.22 389.30M92.62 383.50L87.82 388.30" stroke="#000" stroke-width="1.0"/>
<circle cx="90.22" cy="385.90" r="1.53" fill="#000"/>
<path d="M121.74 374.00L128.54 374.00M122.74 371.60L127.54 376.40M125.14 370.60L125.14 377.40M127.54 371.60L122.74 376.40" stroke="#000" stroke-width="1.0"/>
<circle cx="125.14" cy="374.00" r="1.53" fill="#000"/>
<path d="M156.66 372.50L163.46 372.50M157.66 370.10L162.46 374.90M160.06 369.10L160.06 375.90M162.46 370.10L157.66 374.90" stroke="#000" stroke-width="1.0"/>
<circle cx="160.06" cy="372.50" r="1.53" fill="#000"/>
<path d="M191.58 372.50L198.38 372.50M192.58 370.10L197.38 374.90M194.98 369.10L194.98 375.90M197.38 370.10L192.58 374.90" stroke="#000" stroke-width="1.0"/>
<circle cx="194.98" cy="372.50" r="1.53" fill="#000"/>
<path d="M226.50 372.50L233.30 372.50M227.50 370.10L232.30 374.90M229.90 369.10L229.90 375.90M232.30 370.10L227.50 374.90" stroke="#000" stroke-width="1.0"/>
<circle cx="229.90" cy="372.50" r="1.53" fill="#000"/>
<path d="M87.02 396.00L93.42 396.00M87.96 393.74L92.48 398.26M90.22 392.80L90.22 399.20M92.48 393.74L87.96 398.26" stroke="#000" stroke-width="1.0"/>
<circle cx="90.22" cy="396.00" r="1.44" fill="#000"/>
<path d="M121.94 396.80L128.34 396.80M122.88 394.54L127.40 399.06M125.14 393.60L125.14 400.00M127.40 394.54L122.88 399.06" stroke="#000" stroke-width="1.0"/>
<circle cx="125.14" cy="396.80" r="1.44" fill="#000"/>
<path d="M156.86 396.80L163.26 396.80M157.80 394.54L162.32 399.06M160.06 393.60L160.06 400.00M162.32 394.54L157.80 399.06" stroke="#000" stroke-width="1.0"/>
<circle cx="160.06" cy="396.80" r="1.44" fill="#000"/>
<path d="M191.78 396.80L198.18 396.80M192.72 394.54L197.24 399.06M194.98 393.60L194.98 400.00M197.24 394.54L192.72 399.06" stroke="#000" stroke-width="1.0"/>
<circle cx="194.98" cy="396.80" r="1.44" fill="#000"/>
<path d="M226.70 396.80L233.10 396.80M227.64 394.54L232.16 399.06M229.90 393.60L229.90 400.00M232.16 394.54L227.64 399.06" stroke="#000" stroke-width="1.0"/>
<circle cx="229.90" cy="396.80" r="1.44" fill="#000"/>
<polygon points="90.22,394.64 93.62,400.24 86.82,400.24" stroke="#000" stroke-width="0.95" fill="none" stroke-linejoin="miter"/>
<polygon points="125.14,394.24 128.54,399.84 121.74,399.84" stroke="#000" stroke-width="0.95" fill="none" stroke-linejoin="miter"/>
<polygon points="160.06,394.24 163.46,399.84 156.66,399.84" stroke="#000" stroke-width="0.95" fill="none" stroke-linejoin="miter"/>
<polygon points="194.98,394.24 198.38,399.84 191.58,399.84" stroke="#000" stroke-width="0.95" fill="none" stroke-linejoin="miter"/>
<polygon points="229.90,394.24 233.30,399.84 226.50,399.84" stroke="#000" stroke-width="0.95" fill="none" stroke-linejoin="miter"/>
<circle cx="90.22" cy="400.50" r="3.0" stroke="#000" stroke-width="0.95" fill="none"/>
<circle cx="125.14" cy="399.00" r="3.0" stroke="#000" stroke-width="0.95" fill="none"/>
<circle cx="160.06" cy="398.80" r="3.0" stroke="#000" stroke-width="0.95" fill="none"/>
<circle cx="194.98" cy="398.80" r="3.0" stroke="#000" stroke-width="0.95" fill="none"/>
<circle cx="229.90" cy="398.80" r="3.0" stroke="#000" stroke-width="0.95" fill="none"/>
<polygon points="90.22,401.64 93.62,407.24 86.82,407.24" stroke="#000" stroke-width="0.95" fill="none" stroke-linejoin="miter"/>
<polygon points="125.14,404.24 128.54,409.84 121.74,409.84" stroke="#000" stroke-width="0.95" fill="none" stroke-linejoin="miter"/>
<polygon points="160.06,402.84 163.46,408.44 156.66,408.44" stroke="#000" stroke-width="0.95" fill="none" stroke-linejoin="miter"/>
<polygon points="194.98,402.24 198.38,407.84 191.58,407.84" stroke="#000" stroke-width="0.95" fill="none" stroke-linejoin="miter"/>
<polygon points="229.90,401.84 233.30,407.44 226.50,407.44" stroke="#000" stroke-width="0.95" fill="none" stroke-linejoin="miter"/>
<path d="M87.02 403.00L93.42 403.00M87.96 400.74L92.48 405.26M90.22 399.80L90.22 406.20M92.48 400.74L87.96 405.26" stroke="#000" stroke-width="1.0"/>
<circle cx="90.22" cy="403.00" r="1.44" fill="#000"/>
<path d="M121.94 406.40L128.34 406.40M122.88 404.14L127.40 408.66M125.14 403.20L125.14 409.60M127.40 404.14L122.88 408.66" stroke="#000" stroke-width="1.0"/>
<circle cx="125.14" cy="406.40" r="1.44" fill="#000"/>
<path d="M156.86 406.00L163.26 406.00M157.80 403.74L162.32 408.26M160.06 402.80L160.06 409.20M162.32 403.74L157.80 408.26" stroke="#000" stroke-width="1.0"/>
<circle cx="160.06" cy="406.00" r="1.44" fill="#000"/>
<path d="M191.78 405.80L198.18 405.80M192.72 403.54L197.24 408.06M194.98 402.60L194.98 409.00M197.24 403.54L192.72 408.06" stroke="#000" stroke-width="1.0"/>
<circle cx="194.98" cy="405.80" r="1.44" fill="#000"/>
<path d="M226.70 405.60L233.10 405.60M227.64 403.34L232.16 407.86M229.90 402.40L229.90 408.80M232.16 403.34L227.64 407.86" stroke="#000" stroke-width="1.0"/>
<circle cx="229.90" cy="405.60" r="1.44" fill="#000"/>
<polygon points="90.22,409.64 93.62,415.24 86.82,415.24" stroke="#000" stroke-width="0.95" fill="none" stroke-linejoin="miter"/>
<polygon points="125.14,413.04 128.54,418.64 121.74,418.64" stroke="#000" stroke-width="0.95" fill="none" stroke-linejoin="miter"/>
<polygon points="160.06,413.04 163.46,418.64 156.66,418.64" stroke="#000" stroke-width="0.95" fill="none" stroke-linejoin="miter"/>
<polygon points="194.98,413.04 198.38,418.64 191.58,418.64" stroke="#000" stroke-width="0.95" fill="none" stroke-linejoin="miter"/>
<polygon points="229.90,413.04 233.30,418.64 226.50,418.64" stroke="#000" stroke-width="0.95" fill="none" stroke-linejoin="miter"/>
<polygon points="90.22,412.14 93.62,417.74 86.82,417.74" stroke="#000" stroke-width="0.95" fill="none" stroke-linejoin="miter"/>
<polygon points="125.14,414.14 128.54,419.74 121.74,419.74" stroke="#000" stroke-width="0.95" fill="none" stroke-linejoin="miter"/>
<polygon points="160.06,414.14 163.46,419.74 156.66,419.74" stroke="#000" stroke-width="0.95" fill="none" stroke-linejoin="miter"/>
<polygon points="194.98,414.14 198.38,419.74 191.58,419.74" stroke="#000" stroke-width="0.95" fill="none" stroke-linejoin="miter"/>
<polygon points="229.90,414.14 233.30,419.74 226.50,419.74" stroke="#000" stroke-width="0.95" fill="none" stroke-linejoin="miter"/>
<path d="M87.02 417.50L93.42 417.50M87.96 415.24L92.48 419.76M90.22 414.30L90.22 420.70M92.48 415.24L87.96 419.76" stroke="#000" stroke-width="1.0"/>
<circle cx="90.22" cy="417.50" r="1.44" fill="#000"/>
<path d="M121.94 418.60L128.34 418.60M122.88 416.34L127.40 420.86M125.14 415.40L125.14 421.80M127.40 416.34L122.88 420.86" stroke="#000" stroke-width="1.0"/>
<circle cx="125.14" cy="418.60" r="1.44" fill="#000"/>
<path d="M156.86 418.60L163.26 418.60M157.80 416.34L162.32 420.86M160.06 415.40L160.06 421.80M162.32 416.34L157.80 420.86" stroke="#000" stroke-width="1.0"/>
<circle cx="160.06" cy="418.60" r="1.44" fill="#000"/>
<path d="M191.78 418.60L198.18 418.60M192.72 416.34L197.24 420.86M194.98 415.40L194.98 421.80M197.24 416.34L192.72 420.86" stroke="#000" stroke-width="1.0"/>
<circle cx="194.98" cy="418.60" r="1.44" fill="#000"/>
<path d="M226.70 418.60L233.10 418.60M227.64 416.34L232.16 420.86M229.90 415.40L229.90 421.80M232.16 416.34L227.64 420.86" stroke="#000" stroke-width="1.0"/>
<circle cx="229.90" cy="418.60" r="1.44" fill="#000"/>
<circle cx="90.22" cy="419.00" r="3.0" stroke="#000" stroke-width="0.95" fill="none"/>
<circle cx="125.14" cy="419.70" r="3.0" stroke="#000" stroke-width="0.95" fill="none"/>
<circle cx="160.06" cy="419.70" r="3.0" stroke="#000" stroke-width="0.95" fill="none"/>
<circle cx="194.98" cy="419.70" r="3.0" stroke="#000" stroke-width="0.95" fill="none"/>
<circle cx="229.90" cy="419.70" r="3.0" stroke="#000" stroke-width="0.95" fill="none"/>
<polygon points="90.22,417.14 93.62,422.74 86.82,422.74" stroke="#000" stroke-width="0.95" fill="none" stroke-linejoin="miter"/>
<polygon points="125.14,417.44 128.54,423.04 121.74,423.04" stroke="#000" stroke-width="0.95" fill="none" stroke-linejoin="miter"/>
<polygon points="160.06,417.44 163.46,423.04 156.66,423.04" stroke="#000" stroke-width="0.95" fill="none" stroke-linejoin="miter"/>
<polygon points="194.98,417.44 198.38,423.04 191.58,423.04" stroke="#000" stroke-width="0.95" fill="none" stroke-linejoin="miter"/>
<polygon points="229.90,417.44 233.30,423.04 226.50,423.04" stroke="#000" stroke-width="0.95" fill="none" stroke-linejoin="miter"/>
<path d="M87.02 422.50L93.42 422.50M87.96 420.24L92.48 424.76M90.22 419.30L90.22 425.70M92.48 420.24L87.96 424.76" stroke="#000" stroke-width="1.0"/>
<circle cx="90.22" cy="422.50" r="1.44" fill="#000"/>
<path d="M121.94 425.00L128.34 425.00M122.88 422.74L127.40 427.26M125.14 421.80L125.14 428.20M127.40 422.74L122.88 427.26" stroke="#000" stroke-width="1.0"/>
<circle cx="125.14" cy="425.00" r="1.44" fill="#000"/>
<path d="M156.86 425.00L163.26 425.00M157.80 422.74L162.32 427.26M160.06 421.80L160.06 428.20M162.32 422.74L157.80 427.26" stroke="#000" stroke-width="1.0"/>
<circle cx="160.06" cy="425.00" r="1.44" fill="#000"/>
<path d="M191.78 425.00L198.18 425.00M192.72 422.74L197.24 427.26M194.98 421.80L194.98 428.20M197.24 422.74L192.72 427.26" stroke="#000" stroke-width="1.0"/>
<circle cx="194.98" cy="425.00" r="1.44" fill="#000"/>
<path d="M226.70 425.00L233.10 425.00M227.64 422.74L232.16 427.26M229.90 421.80L229.90 428.20M232.16 422.74L227.64 427.26" stroke="#000" stroke-width="1.0"/>
<circle cx="229.90" cy="425.00" r="1.44" fill="#000"/>
<circle cx="90.22" cy="425.00" r="3.0" stroke="#000" stroke-width="0.95" fill="none"/>
<circle cx="125.14" cy="425.70" r="3.0" stroke="#000" stroke-width="0.95" fill="none"/>
<circle cx="160.06" cy="425.70" r="3.0" stroke="#000" stroke-width="0.95" fill="none"/>
<circle cx="194.98" cy="425.70" r="3.0" stroke="#000" stroke-width="0.95" fill="none"/>
<circle cx="229.90" cy="425.70" r="3.0" stroke="#000" stroke-width="0.95" fill="none"/>
<path d="M87.02 428.00L93.42 428.00M87.96 425.74L92.48 430.26M90.22 424.80L90.22 431.20M92.48 425.74L87.96 430.26" stroke="#000" stroke-width="1.0"/>
<circle cx="90.22" cy="428.00" r="1.44" fill="#000"/>
<path d="M121.94 426.40L128.34 426.40M122.88 424.14L127.40 428.66M125.14 423.20L125.14 429.60M127.40 424.14L122.88 428.66" stroke="#000" stroke-width="1.0"/>
<circle cx="125.14" cy="426.40" r="1.44" fill="#000"/>
<path d="M156.86 426.40L163.26 426.40M157.80 424.14L162.32 428.66M160.06 423.20L160.06 429.60M162.32 424.14L157.80 428.66" stroke="#000" stroke-width="1.0"/>
<circle cx="160.06" cy="426.40" r="1.44" fill="#000"/>
<path d="M191.78 426.40L198.18 426.40M192.72 424.14L197.24 428.66M194.98 423.20L194.98 429.60M197.24 424.14L192.72 428.66" stroke="#000" stroke-width="1.0"/>
<circle cx="194.98" cy="426.40" r="1.44" fill="#000"/>
<path d="M226.70 426.40L233.10 426.40M227.64 424.14L232.16 428.66M229.90 423.20L229.90 429.60M232.16 424.14L227.64 428.66" stroke="#000" stroke-width="1.0"/>
<circle cx="229.90" cy="426.40" r="1.44" fill="#000"/>
<polygon points="90.22,426.64 93.62,432.24 86.82,432.24" stroke="#000" stroke-width="0.95" fill="none" stroke-linejoin="miter"/>
<polygon points="125.14,423.74 128.54,429.34 121.74,429.34" stroke="#000" stroke-width="0.95" fill="none" stroke-linejoin="miter"/>
<polygon points="160.06,423.74 163.46,429.34 156.66,429.34" stroke="#000" stroke-width="0.95" fill="none" stroke-linejoin="miter"/>
<polygon points="194.98,423.74 198.38,429.34 191.58,429.34" stroke="#000" stroke-width="0.95" fill="none" stroke-linejoin="miter"/>
<polygon points="229.90,423.74 233.30,429.34 226.50,429.34" stroke="#000" stroke-width="0.95" fill="none" stroke-linejoin="miter"/>
<path d="M87.02 432.00L93.42 432.00M87.96 429.74L92.48 434.26M90.22 428.80L90.22 435.20M92.48 429.74L87.96 434.26" stroke="#000" stroke-width="1.0"/>
<circle cx="90.22" cy="432.00" r="1.44" fill="#000"/>
<path d="M121.94 427.80L128.34 427.80M122.88 425.54L127.40 430.06M125.14 424.60L125.14 431.00M127.40 425.54L122.88 430.06" stroke="#000" stroke-width="1.0"/>
<circle cx="125.14" cy="427.80" r="1.44" fill="#000"/>
<path d="M156.86 427.80L163.26 427.80M157.80 425.54L162.32 430.06M160.06 424.60L160.06 431.00M162.32 425.54L157.80 430.06" stroke="#000" stroke-width="1.0"/>
<circle cx="160.06" cy="427.80" r="1.44" fill="#000"/>
<path d="M191.78 427.80L198.18 427.80M192.72 425.54L197.24 430.06M194.98 424.60L194.98 431.00M197.24 425.54L192.72 430.06" stroke="#000" stroke-width="1.0"/>
<circle cx="194.98" cy="427.80" r="1.44" fill="#000"/>
<path d="M226.70 427.80L233.10 427.80M227.64 425.54L232.16 430.06M229.90 424.60L229.90 431.00M232.16 425.54L227.64 430.06" stroke="#000" stroke-width="1.0"/>
<circle cx="229.90" cy="427.80" r="1.44" fill="#000"/>
<polygon points="55.80,435.94 59.20,441.54 52.40,441.54" stroke="#000" stroke-width="0.95" fill="#fff" stroke-linejoin="miter"/>
<circle cx="55.30" cy="439.80" r="2.8" stroke="#000" stroke-width="0.95" fill="#fff"/>
<polygon points="54.80,436.88 58.00,442.08 51.60,442.08" stroke="#000" stroke-width="0.95" fill="#fff" stroke-linejoin="miter"/>
<polyline points="232.60,146.50 235.20,146.50 235.20,215.00 232.60,215.00" stroke="#555" stroke-width="0.9" fill="none" stroke-linejoin="round"/>
<polyline points="232.60,353.40 235.20,353.40 235.20,376.80 232.60,376.80" stroke="#555" stroke-width="0.9" fill="none" stroke-linejoin="round"/>
<polyline points="232.60,392.20 235.20,392.20 235.20,406.80 232.60,406.80" stroke="#555" stroke-width="0.9" fill="none" stroke-linejoin="round"/>
<polyline points="232.60,409.50 235.20,409.50 235.20,418.50 232.60,418.50" stroke="#555" stroke-width="0.9" fill="none" stroke-linejoin="round"/>
<polyline points="232.60,420.00 235.20,420.00 235.20,429.60 232.60,429.60" stroke="#555" stroke-width="0.9" fill="none" stroke-linejoin="round"/>
<line x1="325.40" y1="129.30" x2="325.40" y2="440.00" stroke="#444" stroke-width="1.0"/>
<line x1="260.80" y1="440.00" x2="328.90" y2="440.00" stroke="#444" stroke-width="1.0"/>
<line x1="322.40" y1="219.78" x2="325.40" y2="219.78" stroke="#444" stroke-width="1.0"/>
<line x1="322.40" y1="190.11" x2="325.40" y2="190.11" stroke="#444" stroke-width="1.0"/>
<line x1="322.40" y1="169.05" x2="325.40" y2="169.05" stroke="#444" stroke-width="1.0"/>
<line x1="322.40" y1="152.72" x2="325.40" y2="152.72" stroke="#444" stroke-width="1.0"/>
<line x1="322.40" y1="139.38" x2="325.40" y2="139.38" stroke="#444" stroke-width="1.0"/>
<line x1="322.40" y1="128.10" x2="325.40" y2="128.10" stroke="#444" stroke-width="1.0"/>
<line x1="322.40" y1="388.28" x2="325.40" y2="388.28" stroke="#444" stroke-width="1.0"/>
<line x1="322.40" y1="358.61" x2="325.40" y2="358.61" stroke="#444" stroke-width="1.0"/>
<line x1="322.40" y1="337.55" x2="325.40" y2="337.55" stroke="#444" stroke-width="1.0"/>
<line x1="322.40" y1="321.22" x2="325.40" y2="321.22" stroke="#444" stroke-width="1.0"/>
<line x1="322.40" y1="307.88" x2="325.40" y2="307.88" stroke="#444" stroke-width="1.0"/>
<line x1="322.40" y1="296.60" x2="325.40" y2="296.60" stroke="#444" stroke-width="1.0"/>
<line x1="322.40" y1="286.83" x2="325.40" y2="286.83" stroke="#444" stroke-width="1.0"/>
<line x1="322.40" y1="278.21" x2="325.40" y2="278.21" stroke="#444" stroke-width="1.0"/>
<line x1="325.40" y1="270.80" x2="328.90" y2="270.80" stroke="#444" stroke-width="1.0"/>
<text x="331.2" y="274.8" font-size="8.8" text-anchor="start">10</text>
<text x="341.0" y="272.0" font-size="5.6" text-anchor="start">-2</text>
<text x="330.9" y="443.6" font-size="8.8" text-anchor="start">10</text>
<text x="340.4" y="441.0" font-size="5.6" text-anchor="start">-3</text>
<line x1="267.10" y1="440.00" x2="267.10" y2="443.50" stroke="#333" stroke-width="1.0"/>
<text x="267.1" y="455.8" font-size="10.0" text-anchor="middle">1</text>
<line x1="280.10" y1="440.00" x2="280.10" y2="443.50" stroke="#333" stroke-width="1.0"/>
<text x="280.1" y="455.8" font-size="10.0" text-anchor="middle">2</text>
<line x1="292.90" y1="440.00" x2="292.90" y2="443.50" stroke="#333" stroke-width="1.0"/>
<text x="292.9" y="455.8" font-size="10.0" text-anchor="middle">3</text>
<line x1="305.80" y1="440.00" x2="305.80" y2="443.50" stroke="#333" stroke-width="1.0"/>
<text x="305.8" y="455.8" font-size="10.0" text-anchor="middle">4</text>
<line x1="318.60" y1="440.00" x2="318.60" y2="443.50" stroke="#333" stroke-width="1.0"/>
<text x="318.6" y="455.8" font-size="10.0" text-anchor="middle">5</text>
<text x="295.6" y="469.5" font-size="9.5" text-anchor="middle">Sample No.</text>
<text x="339.2" y="221.1" font-size="9.4" text-anchor="middle" transform="rotate(90 339.2 221.1)" dy="3.3">Force (mN)</text>
<line x1="260.00" y1="191.20" x2="325.00" y2="191.20" stroke="#000" stroke-width="1.0" stroke-dasharray="3,2.6"/>
<text x="261.0" y="180.10" font-size="7.4"><tspan font-style="italic">L</tspan> = 5 mm</text>
<path d="M263.30 200.30L270.90 200.30M264.41 197.61L269.79 202.99M267.10 196.50L267.10 204.10M269.79 197.61L264.41 202.99" stroke="#000" stroke-width="1.1"/>
<circle cx="267.10" cy="200.30" r="1.71" fill="#000"/>
<path d="M276.30 190.60L283.90 190.60M277.41 187.91L282.79 193.29M280.10 186.80L280.10 194.40M282.79 187.91L277.41 193.29" stroke="#000" stroke-width="1.1"/>
<circle cx="280.10" cy="190.60" r="1.71" fill="#000"/>
<polygon points="292.90,184.20 297.10,191.20 288.70,191.20" stroke="#000" stroke-width="1.1" fill="#fff" stroke-linejoin="miter"/>
<polygon points="305.80,189.30 310.00,196.30 301.60,196.30" stroke="#000" stroke-width="1.1" fill="#fff" stroke-linejoin="miter"/>
<circle cx="318.60" cy="184.50" r="3.9" stroke="#000" stroke-width="1.1" fill="#fff"/>
<line x1="237.30" y1="180.40" x2="252.66" y2="188.44" stroke="#000" stroke-width="0.9"/>
<polygon points="256.20,190.30 251.87,189.95 253.45,186.94" fill="#000"/>
<line x1="260.00" y1="283.30" x2="325.00" y2="283.30" stroke="#000" stroke-width="1.0" stroke-dasharray="3,2.6"/>
<text x="261.0" y="267.10" font-size="7.4"><tspan font-style="italic">L</tspan> = 10 mm</text>
<path d="M263.30 291.40L270.90 291.40M264.41 288.71L269.79 294.09M267.10 287.60L267.10 295.20M269.79 288.71L264.41 294.09" stroke="#000" stroke-width="1.1"/>
<circle cx="267.10" cy="291.40" r="1.71" fill="#000"/>
<path d="M276.30 287.10L283.90 287.10M277.41 284.41L282.79 289.79M280.10 283.30L280.10 290.90M282.79 284.41L277.41 289.79" stroke="#000" stroke-width="1.1"/>
<circle cx="280.10" cy="287.10" r="1.71" fill="#000"/>
<polygon points="292.90,271.20 297.10,278.20 288.70,278.20" stroke="#000" stroke-width="1.1" fill="#fff" stroke-linejoin="miter"/>
<polygon points="305.80,276.60 310.00,283.60 301.60,283.60" stroke="#000" stroke-width="1.1" fill="#fff" stroke-linejoin="miter"/>
<circle cx="318.60" cy="280.80" r="3.9" stroke="#000" stroke-width="1.1" fill="#fff"/>
<line x1="237.60" y1="363.80" x2="258.49" y2="291.54" stroke="#000" stroke-width="0.9"/>
<polygon points="259.60,287.70 260.12,292.01 256.86,291.07" fill="#000"/>
<line x1="260.00" y1="330.60" x2="325.00" y2="330.60" stroke="#888" stroke-width="1.0" stroke-dasharray="3,2.6"/>
<text x="261.0" y="318.20" font-size="7.4"><tspan font-style="italic">L</tspan> = 15 mm</text>
<path d="M263.30 341.40L270.90 341.40M264.41 338.71L269.79 344.09M267.10 337.60L267.10 345.20M269.79 338.71L264.41 344.09" stroke="#000" stroke-width="1.1"/>
<circle cx="267.10" cy="341.40" r="1.71" fill="#000"/>
<path d="M276.30 323.40L283.90 323.40M277.41 320.71L282.79 326.09M280.10 319.60L280.10 327.20M282.79 320.71L277.41 326.09" stroke="#000" stroke-width="1.1"/>
<circle cx="280.10" cy="323.40" r="1.71" fill="#000"/>
<polygon points="292.90,321.80 297.10,328.80 288.70,328.80" stroke="#000" stroke-width="1.1" fill="#fff" stroke-linejoin="miter"/>
<polygon points="305.80,333.30 310.00,340.30 301.60,340.30" stroke="#000" stroke-width="1.1" fill="#fff" stroke-linejoin="miter"/>
<circle cx="318.60" cy="324.70" r="3.9" stroke="#000" stroke-width="1.1" fill="#fff"/>
<line x1="237.60" y1="399.20" x2="259.07" y2="338.17" stroke="#000" stroke-width="0.9"/>
<polygon points="260.40,334.40 260.68,338.74 257.47,337.61" fill="#000"/>
<line x1="260.00" y1="376.00" x2="325.00" y2="376.00" stroke="#000" stroke-width="1.0" stroke-dasharray="3,2.6"/>
<text x="261.0" y="364.40" font-size="7.4"><tspan font-style="italic">L</tspan> = 20 mm</text>
<path d="M263.30 387.10L270.90 387.10M264.41 384.41L269.79 389.79M267.10 383.30L267.10 390.90M269.79 384.41L264.41 389.79" stroke="#000" stroke-width="1.1"/>
<circle cx="267.10" cy="387.10" r="1.71" fill="#000"/>
<path d="M276.30 379.10L283.90 379.10M277.41 376.41L282.79 381.79M280.10 375.30L280.10 382.90M282.79 376.41L277.41 381.79" stroke="#000" stroke-width="1.1"/>
<circle cx="280.10" cy="379.10" r="1.71" fill="#000"/>
<polygon points="292.90,365.90 297.10,372.90 288.70,372.90" stroke="#000" stroke-width="1.1" fill="#fff" stroke-linejoin="miter"/>
<polygon points="305.80,368.50 310.00,375.50 301.60,375.50" stroke="#000" stroke-width="1.1" fill="#fff" stroke-linejoin="miter"/>
<circle cx="318.60" cy="371.70" r="3.9" stroke="#000" stroke-width="1.1" fill="#fff"/>
<line x1="237.60" y1="417.40" x2="258.32" y2="383.42" stroke="#000" stroke-width="0.9"/>
<polygon points="260.40,380.00 259.77,384.30 256.87,382.53" fill="#000"/>
<line x1="260.00" y1="406.10" x2="325.00" y2="406.10" stroke="#000" stroke-width="1.0" stroke-dasharray="3,2.6"/>
<text x="261.0" y="399.10" font-size="7.4"><tspan font-style="italic">L</tspan> = 25 mm</text>
<path d="M263.30 406.10L270.90 406.10M264.41 403.41L269.79 408.79M267.10 402.30L267.10 409.90M269.79 403.41L264.41 408.79" stroke="#000" stroke-width="1.1"/>
<circle cx="267.10" cy="406.10" r="1.71" fill="#000"/>
<path d="M276.30 415.90L283.90 415.90M277.41 413.21L282.79 418.59M280.10 412.10L280.10 419.70M282.79 413.21L277.41 418.59" stroke="#000" stroke-width="1.1"/>
<circle cx="280.10" cy="415.90" r="1.71" fill="#000"/>
<polygon points="292.90,398.80 297.10,405.80 288.70,405.80" stroke="#000" stroke-width="1.1" fill="#fff" stroke-linejoin="miter"/>
<polygon points="305.80,395.00 310.00,402.00 301.60,402.00" stroke="#000" stroke-width="1.1" fill="#fff" stroke-linejoin="miter"/>
<circle cx="318.60" cy="406.10" r="3.9" stroke="#000" stroke-width="1.1" fill="#fff"/>
<line x1="237.60" y1="426.50" x2="256.40" y2="409.94" stroke="#000" stroke-width="0.9"/>
<polygon points="259.40,407.30 257.52,411.22 255.27,408.67" fill="#000"/>
<text x="384.0" y="116.0" font-size="16.6" text-anchor="start">C</text>
<line x1="415.00" y1="127.80" x2="415.00" y2="440.70" stroke="#444" stroke-width="1.0"/>
<line x1="415.00" y1="440.70" x2="554.20" y2="440.70" stroke="#444" stroke-width="1.0"/>
<line x1="411.80" y1="127.80" x2="415.00" y2="127.80" stroke="#444" stroke-width="1.0"/>
<line x1="411.80" y1="162.75" x2="415.00" y2="162.75" stroke="#444" stroke-width="1.0"/>
<line x1="411.80" y1="197.70" x2="415.00" y2="197.70" stroke="#444" stroke-width="1.0"/>
<line x1="411.80" y1="232.65" x2="415.00" y2="232.65" stroke="#444" stroke-width="1.0"/>
<line x1="411.80" y1="267.60" x2="415.00" y2="267.60" stroke="#444" stroke-width="1.0"/>
<line x1="411.80" y1="302.55" x2="415.00" y2="302.55" stroke="#444" stroke-width="1.0"/>
<line x1="411.80" y1="337.50" x2="415.00" y2="337.50" stroke="#444" stroke-width="1.0"/>
<line x1="411.80" y1="372.45" x2="415.00" y2="372.45" stroke="#444" stroke-width="1.0"/>
<line x1="411.80" y1="407.40" x2="415.00" y2="407.40" stroke="#444" stroke-width="1.0"/>
<text x="401.8" y="132.60000000000002" font-size="9.4" text-anchor="end">0.11</text>
<text x="401.8" y="201.0" font-size="9.4" text-anchor="end">0.10</text>
<text x="401.8" y="270.90000000000003" font-size="9.4" text-anchor="end">0.09</text>
<text x="401.8" y="340.8" font-size="9.4" text-anchor="end">0.08</text>
<text x="401.8" y="410.7" font-size="9.4" text-anchor="end">0.07</text>
<line x1="428.80" y1="440.70" x2="428.80" y2="444.20" stroke="#333" stroke-width="1.0"/>
<text x="428.8" y="455.8" font-size="10.0" text-anchor="middle">1</text>
<line x1="456.80" y1="440.70" x2="456.80" y2="444.20" stroke="#333" stroke-width="1.0"/>
<text x="456.8" y="455.8" font-size="10.0" text-anchor="middle">2</text>
<line x1="484.80" y1="440.70" x2="484.80" y2="444.20" stroke="#333" stroke-width="1.0"/>
<text x="484.8" y="455.8" font-size="10.0" text-anchor="middle">3</text>
<line x1="512.80" y1="440.70" x2="512.80" y2="444.20" stroke="#333" stroke-width="1.0"/>
<text x="512.8" y="455.8" font-size="10.0" text-anchor="middle">4</text>
<line x1="540.80" y1="440.70" x2="540.80" y2="444.20" stroke="#333" stroke-width="1.0"/>
<text x="540.8" y="455.8" font-size="10.0" text-anchor="middle">5</text>
<text x="484.8" y="469.0" font-size="9.4" text-anchor="middle">Sample No.</text>
<text x="373.0" y="267.3" font-size="9.5" text-anchor="middle" transform="rotate(-90 373.0 267.3)" dy="3.4">Stiffness (N/m)</text>
<polyline points="422.30,436.00 427.10,362.20 430.70,289.10 435.10,318.30 439.10,206.60" stroke="#000" stroke-width="1.0" fill="none" stroke-linejoin="round"/>
<polyline points="450.10,369.50 454.50,330.40 458.90,220.50 462.90,249.70 467.30,282.60" stroke="#000" stroke-width="1.0" fill="none" stroke-linejoin="round"/>
<polyline points="479.00,354.90 482.60,239.50 486.60,157.70 491.00,171.20 495.00,183.30" stroke="#000" stroke-width="1.0" fill="none" stroke-linejoin="round"/>
<polyline points="505.60,289.20 510.40,289.60 514.00,262.50 518.40,200.40 522.80,138.30" stroke="#000" stroke-width="1.0" fill="none" stroke-linejoin="round"/>
<polyline points="533.70,325.70 538.50,285.50 542.10,140.20 546.20,180.40 550.50,193.10" stroke="#000" stroke-width="1.0" fill="none" stroke-linejoin="round"/>
<path d="M418.40 436.00L426.20 436.00M419.54 433.24L425.06 438.76M422.30 432.10L422.30 439.90M425.06 433.24L419.54 438.76" stroke="#000" stroke-width="1.2"/>
<circle cx="422.30" cy="436.00" r="1.75" fill="#000"/>
<path d="M423.20 362.20L431.00 362.20M424.34 359.44L429.86 364.96M427.10 358.30L427.10 366.10M429.86 359.44L424.34 364.96" stroke="#000" stroke-width="1.2"/>
<circle cx="427.10" cy="362.20" r="1.75" fill="#000"/>
<path d="M426.80 289.10L434.60 289.10M427.94 286.34L433.46 291.86M430.70 285.20L430.70 293.00M433.46 286.34L427.94 291.86" stroke="#000" stroke-width="1.2"/>
<circle cx="430.70" cy="289.10" r="1.75" fill="#000"/>
<path d="M431.20 318.30L439.00 318.30M432.34 315.54L437.86 321.06M435.10 314.40L435.10 322.20M437.86 315.54L432.34 321.06" stroke="#000" stroke-width="1.2"/>
<circle cx="435.10" cy="318.30" r="1.75" fill="#000"/>
<path d="M435.20 206.60L443.00 206.60M436.34 203.84L441.86 209.36M439.10 202.70L439.10 210.50M441.86 203.84L436.34 209.36" stroke="#000" stroke-width="1.2"/>
<circle cx="439.10" cy="206.60" r="1.75" fill="#000"/>
<path d="M446.20 369.50L454.00 369.50M447.34 366.74L452.86 372.26M450.10 365.60L450.10 373.40M452.86 366.74L447.34 372.26" stroke="#000" stroke-width="1.2"/>
<circle cx="450.10" cy="369.50" r="1.75" fill="#000"/>
<path d="M450.60 330.40L458.40 330.40M451.74 327.64L457.26 333.16M454.50 326.50L454.50 334.30M457.26 327.64L451.74 333.16" stroke="#000" stroke-width="1.2"/>
<circle cx="454.50" cy="330.40" r="1.75" fill="#000"/>
<path d="M455.00 220.50L462.80 220.50M456.14 217.74L461.66 223.26M458.90 216.60L458.90 224.40M461.66 217.74L456.14 223.26" stroke="#000" stroke-width="1.2"/>
<circle cx="458.90" cy="220.50" r="1.75" fill="#000"/>
<path d="M459.00 249.70L466.80 249.70M460.14 246.94L465.66 252.46M462.90 245.80L462.90 253.60M465.66 246.94L460.14 252.46" stroke="#000" stroke-width="1.2"/>
<circle cx="462.90" cy="249.70" r="1.75" fill="#000"/>
<path d="M463.40 282.60L471.20 282.60M464.54 279.84L470.06 285.36M467.30 278.70L467.30 286.50M470.06 279.84L464.54 285.36" stroke="#000" stroke-width="1.2"/>
<circle cx="467.30" cy="282.60" r="1.75" fill="#000"/>
<polygon points="479.00,350.70 483.30,357.70 474.70,357.70" stroke="#000" stroke-width="1.1" fill="#fff" stroke-linejoin="miter"/>
<polygon points="482.60,235.30 486.90,242.30 478.30,242.30" stroke="#000" stroke-width="1.1" fill="#fff" stroke-linejoin="miter"/>
<polygon points="486.60,153.50 490.90,160.50 482.30,160.50" stroke="#000" stroke-width="1.1" fill="#fff" stroke-linejoin="miter"/>
<polygon points="491.00,167.00 495.30,174.00 486.70,174.00" stroke="#000" stroke-width="1.1" fill="#fff" stroke-linejoin="miter"/>
<polygon points="495.00,179.10 499.30,186.10 490.70,186.10" stroke="#000" stroke-width="1.1" fill="#fff" stroke-linejoin="miter"/>
<polygon points="505.60,285.00 509.90,292.00 501.30,292.00" stroke="#000" stroke-width="1.1" fill="#fff" stroke-linejoin="miter"/>
<polygon points="510.40,285.40 514.70,292.40 506.10,292.40" stroke="#000" stroke-width="1.1" fill="#fff" stroke-linejoin="miter"/>
<polygon points="514.00,258.30 518.30,265.30 509.70,265.30" stroke="#000" stroke-width="1.1" fill="#fff" stroke-linejoin="miter"/>
<polygon points="518.40,196.20 522.70,203.20 514.10,203.20" stroke="#000" stroke-width="1.1" fill="#fff" stroke-linejoin="miter"/>
<polygon points="522.80,134.10 527.10,141.10 518.50,141.10" stroke="#000" stroke-width="1.1" fill="#fff" stroke-linejoin="miter"/>
<circle cx="533.70" cy="325.70" r="4.0" stroke="#000" stroke-width="1.1" fill="#fff"/>
<circle cx="538.50" cy="285.50" r="4.0" stroke="#000" stroke-width="1.1" fill="#fff"/>
<circle cx="542.10" cy="140.20" r="4.0" stroke="#000" stroke-width="1.1" fill="#fff"/>
<circle cx="546.20" cy="180.40" r="4.0" stroke="#000" stroke-width="1.1" fill="#fff"/>
<circle cx="550.50" cy="193.10" r="4.0" stroke="#000" stroke-width="1.1" fill="#fff"/>
<polyline points="477.60,372.60 477.60,370.00 495.00,370.00 495.00,372.60" stroke="#000" stroke-width="1.0" fill="none" stroke-linejoin="round"/>
<line x1="481.95" y1="370.00" x2="481.95" y2="372.20" stroke="#000" stroke-width="0.8"/>
<line x1="486.30" y1="370.00" x2="486.30" y2="372.20" stroke="#000" stroke-width="0.8"/>
<line x1="490.65" y1="370.00" x2="490.65" y2="372.20" stroke="#000" stroke-width="0.8"/>
<text x="476.0" y="381.6" font-size="7.2" text-anchor="middle">5</text>
<text x="496.2" y="381.6" font-size="7.2" text-anchor="middle">25</text>
<text x="475.0" y="390.8" font-size="7.4" text-anchor="start" font-style="italic">L</text>
<text x="479.0" y="390.8" font-size="7.4" text-anchor="start">(mm)</text>
</svg>
</body></html>
